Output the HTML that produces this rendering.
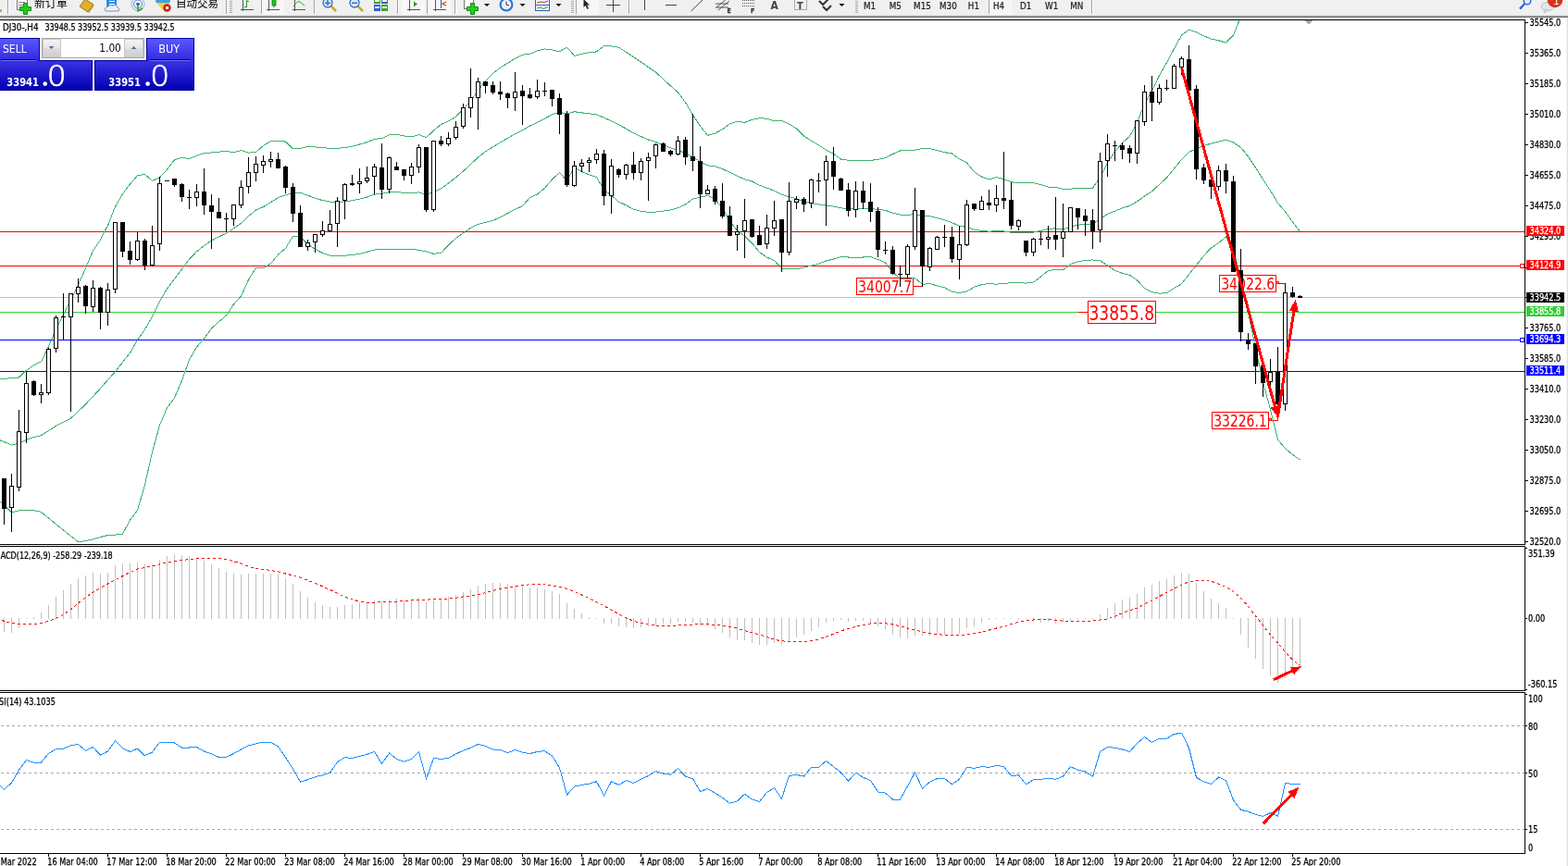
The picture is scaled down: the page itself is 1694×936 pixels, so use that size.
<!DOCTYPE html><html><head><meta charset="utf-8"><title>DJ30-,H4</title><style>
html,body{margin:0;padding:0;width:1694px;height:936px;overflow:hidden;background:#fff;}
#tb{position:absolute;left:0;top:0;width:1694px;height:16px;background:#f0f0f0;overflow:hidden;}
svg{position:absolute;left:0;top:0;}
text{font-family:"Liberation Sans","Noto Sans CJK SC",sans-serif;}
</style></head><body>
<svg width="1694" height="936" viewBox="0 0 1694 936" shape-rendering="crispEdges">
<defs><clipPath id="cm"><rect x="0" y="22" width="1647" height="566"/></clipPath><clipPath id="cd"><rect x="0" y="591" width="1647" height="155"/></clipPath><clipPath id="cr"><rect x="0" y="749" width="1647" height="173"/></clipPath></defs>
<rect x="0" y="0" width="1694" height="16" fill="#f0f0f0"/>
<rect x="0" y="16" width="1694" height="1" fill="#e2e2e2"/>
<rect x="0" y="17" width="1694" height="1" fill="#a0a0a0"/>
<rect x="0" y="18" width="1694" height="1" fill="#6c6c6c"/>
<rect x="1692" y="19" width="1" height="917" fill="#f3f3f3"/><rect x="1693" y="19" width="1" height="917" fill="#e0e0e0"/>
<rect x="0" y="250" width="1647" height="1" fill="#ff0000"/>
<rect x="0" y="287" width="1647" height="1" fill="#ff0000"/>
<rect x="0" y="321" width="1647" height="1" fill="#c0c0c0"/>
<rect x="0" y="337" width="1647" height="1" fill="#32cd32"/>
<rect x="0" y="367" width="1647" height="1" fill="#0000ff"/>
<rect x="0" y="401" width="1647" height="1" fill="#0000ff"/>
<rect x="1642.5" y="285.5" width="4" height="4" fill="#fff" stroke="#ff0000"/>
<rect x="1642.5" y="365.5" width="4" height="4" fill="#fff" stroke="#0000ff"/>
<rect x="925.5" y="300.5" width="61" height="18" fill="#fff" stroke="#ff0000"/>
<text x="927.0" y="316.3" font-size="17" fill="#ff0000" textLength="58.2" lengthAdjust="spacingAndGlyphs" shape-rendering="auto" style="font-family:'DejaVu Sans Condensed','DejaVu Sans',sans-serif">34007.7</text>
<rect x="987" y="309" width="9" height="1" fill="#ff0000"/>
<rect x="1175.5" y="325.5" width="73" height="24" fill="#fff" stroke="#ff0000"/>
<text x="1176.5" y="346.3" font-size="22" fill="#ff0000" textLength="70.6" lengthAdjust="spacingAndGlyphs" shape-rendering="auto" style="font-family:'DejaVu Sans Condensed','DejaVu Sans',sans-serif">33855.8</text>
<rect x="1165" y="337" width="10" height="1" fill="#ff0000"/>
<rect x="1317.5" y="297.5" width="61" height="18" fill="#fff" stroke="#ff0000"/>
<text x="1319.2" y="313.0" font-size="17" fill="#ff0000" textLength="58.0" lengthAdjust="spacingAndGlyphs" shape-rendering="auto" style="font-family:'DejaVu Sans Condensed','DejaVu Sans',sans-serif">34022.6</text>
<rect x="1379.5" y="304.5" width="2" height="2" fill="#fff" stroke="#ff0000"/>
<rect x="1382" y="306" width="6" height="1" fill="#ff0000"/>
<rect x="1309.5" y="445.5" width="61" height="18" fill="#fff" stroke="#ff0000"/>
<text x="1311.2" y="461.0" font-size="17" fill="#ff0000" textLength="57.5" lengthAdjust="spacingAndGlyphs" shape-rendering="auto" style="font-family:'DejaVu Sans Condensed','DejaVu Sans',sans-serif">33226.1</text>
<rect x="1371.5" y="452.5" width="2" height="2" fill="#fff" stroke="#ff0000"/>
<rect x="1374" y="454" width="7" height="1" fill="#ff0000"/>
<rect x="1380" y="451" width="1" height="3" fill="#ff0000"/>
<g fill="none" stroke="#3cb371" stroke-width="1" clip-path="url(#cm)">
<polyline points="-4.0,409.6 4.5,409.2 12.5,408.8 20.5,407.9 28.5,400.2 36.5,394.9 44.5,390.9 52.5,374.4 60.5,355.7 68.5,339.7 76.5,323.8 84.5,307.8 92.5,289.9 100.5,271.1 108.5,258.9 116.5,243.8 124.5,223.4 132.5,209.7 140.5,199.0 148.5,189.7 156.5,188.5 164.5,195.3 172.5,191.9 180.5,183.3 188.5,172.7 196.5,170.1 204.5,171.6 212.5,168.3 220.5,165.4 228.5,165.0 236.5,164.1 244.5,163.5 252.5,164.8 260.5,162.6 268.5,165.1 276.5,164.5 284.5,157.3 292.5,152.7 300.5,152.3 308.5,153.1 316.5,160.9 324.5,160.4 332.5,158.5 340.5,158.9 348.5,159.8 356.5,160.2 364.5,160.4 372.5,159.6 380.5,158.1 388.5,156.0 396.5,153.7 404.5,150.3 412.5,149.6 420.5,145.7 428.5,145.4 436.5,147.0 444.5,148.0 452.5,145.5 460.5,148.6 468.5,141.1 476.5,134.5 484.5,130.9 492.5,126.3 500.5,118.0 508.5,109.1 516.5,97.7 524.5,87.4 532.5,79.4 540.5,73.1 548.5,68.3 556.5,63.2 564.5,59.2 572.5,58.4 580.5,54.9 588.5,52.9 596.5,53.8 604.5,55.8 612.5,51.1 620.5,60.3 628.5,58.3 636.5,56.8 644.5,55.9 652.5,49.7 660.5,49.9 668.5,51.2 676.5,56.4 684.5,61.6 692.5,66.9 700.5,72.7 708.5,78.0 716.5,85.5 724.5,92.9 732.5,99.8 740.5,110.7 748.5,124.2 756.5,136.3 764.5,146.3 772.5,144.1 780.5,139.8 788.5,133.7 796.5,131.2 804.5,132.4 812.5,129.2 820.5,127.8 828.5,128.2 836.5,130.7 844.5,130.3 852.5,134.1 860.5,138.9 868.5,147.0 876.5,152.1 884.5,156.9 892.5,162.2 900.5,166.3 908.5,172.0 916.5,173.3 924.5,173.5 932.5,173.6 940.5,173.5 948.5,172.2 956.5,170.8 964.5,166.4 972.5,163.0 980.5,162.9 988.5,162.2 996.5,160.5 1004.5,160.7 1012.5,162.5 1020.5,164.7 1028.5,165.9 1036.5,171.9 1044.5,175.9 1052.5,185.9 1060.5,191.1 1068.5,193.9 1076.5,191.7 1084.5,193.7 1092.5,196.6 1100.5,197.7 1108.5,197.7 1116.5,197.6 1124.5,199.6 1132.5,202.2 1140.5,202.3 1148.5,204.4 1156.5,204.1 1164.5,203.6 1172.5,203.2 1180.5,203.2 1188.5,191.7 1196.5,175.8 1204.5,163.9 1212.5,154.5 1220.5,147.3 1228.5,132.7 1236.5,112.5 1244.5,97.8 1252.5,81.6 1260.5,67.6 1268.5,52.7 1276.5,37.9 1284.5,32.1 1292.5,34.9 1300.5,38.7 1308.5,42.1 1316.5,43.7 1324.5,46.3 1332.5,37.9 1340.5,18.4 1348.5,0.6 1356.5,-13.8 1364.5,-25.2 1372.5,-30.5 1380.5,-36.3 1388.5,-26.9 1396.5,-11.6 1404.5,3.9"/>
<polyline points="-4.0,474.2 4.5,477.6 12.5,481.1 20.5,479.1 28.5,475.2 36.5,472.6 44.5,470.6 52.5,465.5 60.5,460.4 68.5,456.4 76.5,452.1 84.5,444.7 92.5,437.0 100.5,428.4 108.5,419.7 116.5,410.7 124.5,401.7 132.5,391.5 140.5,381.3 148.5,367.3 156.5,356.3 164.5,342.0 172.5,325.7 180.5,312.1 188.5,301.4 196.5,290.7 204.5,280.2 212.5,271.7 220.5,265.6 228.5,260.0 236.5,255.9 244.5,252.2 252.5,246.8 260.5,241.3 268.5,233.7 276.5,227.0 284.5,223.6 292.5,218.7 300.5,213.7 308.5,210.8 316.5,208.0 324.5,208.1 332.5,211.3 340.5,214.2 348.5,216.6 356.5,218.1 364.5,218.3 372.5,217.9 380.5,216.8 388.5,215.2 396.5,213.0 404.5,210.2 412.5,209.3 420.5,207.8 428.5,207.6 436.5,208.3 444.5,208.6 452.5,207.9 460.5,210.2 468.5,207.7 476.5,203.9 484.5,198.0 492.5,191.8 500.5,184.9 508.5,177.7 516.5,170.0 524.5,163.8 532.5,158.8 540.5,153.9 548.5,149.4 556.5,144.8 564.5,140.9 572.5,136.0 580.5,132.4 588.5,128.1 596.5,123.9 604.5,121.1 612.5,123.1 620.5,120.7 628.5,121.9 636.5,122.8 644.5,123.7 652.5,127.4 660.5,130.6 668.5,134.7 676.5,139.2 684.5,143.9 692.5,147.6 700.5,151.0 708.5,153.6 716.5,156.8 724.5,159.9 732.5,162.2 740.5,165.8 748.5,169.6 756.5,174.8 764.5,178.8 772.5,179.7 780.5,182.5 788.5,186.4 796.5,190.2 804.5,193.8 812.5,196.0 820.5,200.2 828.5,203.2 836.5,206.1 844.5,210.4 852.5,212.6 860.5,214.8 868.5,218.0 876.5,219.6 884.5,221.0 892.5,222.1 900.5,223.1 908.5,224.8 916.5,225.7 924.5,225.7 932.5,225.8 940.5,225.6 948.5,226.3 956.5,227.3 964.5,230.2 972.5,232.2 980.5,232.4 988.5,231.4 996.5,233.9 1004.5,233.7 1012.5,235.6 1020.5,237.7 1028.5,240.7 1036.5,244.2 1044.5,245.5 1052.5,248.1 1060.5,249.4 1068.5,250.2 1076.5,249.5 1084.5,250.0 1092.5,251.2 1100.5,251.7 1108.5,251.9 1116.5,251.2 1124.5,249.3 1132.5,247.3 1140.5,246.9 1148.5,248.1 1156.5,244.9 1164.5,243.2 1172.5,242.3 1180.5,242.0 1188.5,236.8 1196.5,231.3 1204.5,228.1 1212.5,224.9 1220.5,222.4 1228.5,217.8 1236.5,212.1 1244.5,206.8 1252.5,199.4 1260.5,192.2 1268.5,182.1 1276.5,172.4 1284.5,164.4 1292.5,160.7 1300.5,157.5 1308.5,155.1 1316.5,153.1 1324.5,151.2 1332.5,153.9 1340.5,159.3 1348.5,169.2 1356.5,181.2 1364.5,194.0 1372.5,206.0 1380.5,219.5 1388.5,228.8 1396.5,239.9 1404.5,250.4"/>
<polyline points="-4.0,538.1 4.5,546.1 12.5,553.8 20.5,551.9 28.5,551.2 36.5,551.7 44.5,553.4 52.5,560.0 60.5,566.6 68.5,573.0 76.5,579.4 84.5,585.8 92.5,584.7 100.5,582.8 108.5,580.5 116.5,578.5 124.5,578.1 132.5,577.1 140.5,562.1 148.5,551.5 156.5,524.0 164.5,488.8 172.5,459.5 180.5,440.9 188.5,430.1 196.5,411.4 204.5,388.7 212.5,375.1 220.5,365.9 228.5,355.0 236.5,347.7 244.5,341.0 252.5,328.9 260.5,320.0 268.5,302.4 276.5,289.5 284.5,289.9 292.5,284.7 300.5,275.1 308.5,268.5 316.5,255.2 324.5,255.8 332.5,264.0 340.5,269.4 348.5,273.5 356.5,276.1 364.5,276.2 372.5,276.2 380.5,275.6 388.5,274.4 396.5,272.3 404.5,270.1 412.5,269.1 420.5,269.8 428.5,269.9 436.5,269.5 444.5,269.2 452.5,270.4 460.5,271.9 468.5,274.3 476.5,273.3 484.5,265.1 492.5,257.3 500.5,251.9 508.5,246.4 516.5,242.3 524.5,240.3 532.5,238.3 540.5,234.8 548.5,230.5 556.5,226.3 564.5,222.6 572.5,213.5 580.5,210.0 588.5,203.3 596.5,194.1 604.5,186.4 612.5,195.2 620.5,181.1 628.5,185.6 636.5,188.8 644.5,191.5 652.5,205.2 660.5,211.2 668.5,218.2 676.5,221.9 684.5,226.2 692.5,228.3 700.5,229.4 708.5,229.1 716.5,228.1 724.5,227.0 732.5,224.7 740.5,221.0 748.5,215.1 756.5,213.2 764.5,211.4 772.5,215.4 780.5,225.2 788.5,239.1 796.5,249.3 804.5,255.2 812.5,262.8 820.5,272.7 828.5,278.1 836.5,281.6 844.5,290.6 852.5,291.0 860.5,290.8 868.5,289.1 876.5,287.1 884.5,285.1 892.5,282.0 900.5,280.0 908.5,277.5 916.5,278.0 924.5,278.0 932.5,278.0 940.5,277.6 948.5,280.5 956.5,283.9 964.5,294.1 972.5,301.5 980.5,301.8 988.5,300.5 996.5,307.3 1004.5,306.7 1012.5,308.8 1020.5,310.8 1028.5,315.4 1036.5,316.4 1044.5,315.0 1052.5,310.2 1060.5,307.7 1068.5,306.5 1076.5,307.2 1084.5,306.3 1092.5,305.8 1100.5,305.7 1108.5,306.1 1116.5,304.9 1124.5,299.1 1132.5,292.4 1140.5,291.6 1148.5,291.8 1156.5,285.7 1164.5,282.8 1172.5,281.5 1180.5,280.9 1188.5,281.8 1196.5,286.8 1204.5,292.4 1212.5,295.4 1220.5,297.4 1228.5,302.9 1236.5,311.7 1244.5,315.7 1252.5,317.1 1260.5,316.8 1268.5,311.5 1276.5,306.8 1284.5,296.6 1292.5,286.6 1300.5,276.3 1308.5,268.1 1316.5,262.5 1324.5,256.0 1332.5,269.9 1340.5,300.3 1348.5,337.7 1356.5,376.2 1364.5,413.2 1372.5,442.5 1380.5,475.4 1388.5,484.6 1396.5,491.4 1404.5,496.9"/>
</g>
<g>
<rect x="4" y="517" width="1" height="50" fill="#000"/>
<rect x="2" y="517" width="5" height="33" fill="#000"/>
<rect x="12" y="512" width="1" height="63" fill="#000"/>
<rect x="10.5" y="525.5" width="4" height="23" fill="#fff" stroke="#000"/>
<rect x="20" y="443" width="1" height="88" fill="#000"/>
<rect x="18.5" y="466.5" width="4" height="60" fill="#fff" stroke="#000"/>
<rect x="28" y="402" width="1" height="77" fill="#000"/>
<rect x="26.5" y="414.5" width="4" height="53" fill="#fff" stroke="#000"/>
<rect x="36" y="411" width="1" height="17" fill="#000"/>
<rect x="34" y="412" width="5" height="15" fill="#000"/>
<rect x="44" y="415" width="1" height="21" fill="#000"/>
<rect x="42.5" y="424.5" width="4" height="2" fill="#fff" stroke="#000"/>
<rect x="52" y="376" width="1" height="51" fill="#000"/>
<rect x="50.5" y="377.5" width="4" height="47" fill="#fff" stroke="#000"/>
<rect x="60" y="341" width="1" height="40" fill="#000"/>
<rect x="58.5" y="343.5" width="4" height="33" fill="#fff" stroke="#000"/>
<rect x="68" y="317" width="1" height="50" fill="#000"/>
<rect x="66" y="342" width="5" height="1" fill="#000"/>
<rect x="76" y="317" width="1" height="128" fill="#000"/>
<rect x="74.5" y="317.5" width="4" height="25" fill="#fff" stroke="#000"/>
<rect x="84" y="301" width="1" height="26" fill="#000"/>
<rect x="82.5" y="310.5" width="4" height="7" fill="#fff" stroke="#000"/>
<rect x="92" y="308" width="1" height="31" fill="#000"/>
<rect x="90" y="309" width="5" height="22" fill="#000"/>
<rect x="100" y="303" width="1" height="34" fill="#000"/>
<rect x="98.5" y="311.5" width="4" height="20" fill="#fff" stroke="#000"/>
<rect x="108" y="310" width="1" height="46" fill="#000"/>
<rect x="106" y="311" width="5" height="27" fill="#000"/>
<rect x="116" y="306" width="1" height="46" fill="#000"/>
<rect x="114.5" y="313.5" width="4" height="24" fill="#fff" stroke="#000"/>
<rect x="124" y="240" width="1" height="77" fill="#000"/>
<rect x="122.5" y="240.5" width="4" height="72" fill="#fff" stroke="#000"/>
<rect x="132" y="240" width="1" height="38" fill="#000"/>
<rect x="130" y="240" width="5" height="32" fill="#000"/>
<rect x="140" y="261" width="1" height="25" fill="#000"/>
<rect x="138" y="271" width="5" height="10" fill="#000"/>
<rect x="148" y="251" width="1" height="31" fill="#000"/>
<rect x="146.5" y="260.5" width="4" height="20" fill="#fff" stroke="#000"/>
<rect x="156" y="258" width="1" height="34" fill="#000"/>
<rect x="154" y="260" width="5" height="27" fill="#000"/>
<rect x="164" y="244" width="1" height="44" fill="#000"/>
<rect x="162.5" y="265.5" width="4" height="21" fill="#fff" stroke="#000"/>
<rect x="172" y="191" width="1" height="80" fill="#000"/>
<rect x="170.5" y="198.5" width="4" height="65" fill="#fff" stroke="#000"/>
<rect x="180" y="195" width="1" height="1" fill="#000"/>
<rect x="178" y="195" width="5" height="1" fill="#000"/>
<rect x="188" y="193" width="1" height="9" fill="#000"/>
<rect x="186" y="193" width="5" height="7" fill="#000"/>
<rect x="196" y="198" width="1" height="20" fill="#000"/>
<rect x="194" y="199" width="5" height="14" fill="#000"/>
<rect x="204" y="205" width="1" height="21" fill="#000"/>
<rect x="202" y="213" width="5" height="1" fill="#000"/>
<rect x="212" y="199" width="1" height="24" fill="#000"/>
<rect x="210.5" y="207.5" width="4" height="6" fill="#fff" stroke="#000"/>
<rect x="220" y="182" width="1" height="50" fill="#000"/>
<rect x="218" y="207" width="5" height="15" fill="#000"/>
<rect x="228" y="210" width="1" height="59" fill="#000"/>
<rect x="226" y="222" width="5" height="7" fill="#000"/>
<rect x="236" y="214" width="1" height="22" fill="#000"/>
<rect x="234" y="229" width="5" height="7" fill="#000"/>
<rect x="244" y="230" width="1" height="21" fill="#000"/>
<rect x="242" y="236" width="5" height="1" fill="#000"/>
<rect x="252" y="221" width="1" height="23" fill="#000"/>
<rect x="250.5" y="221.5" width="4" height="15" fill="#fff" stroke="#000"/>
<rect x="260" y="195" width="1" height="30" fill="#000"/>
<rect x="258.5" y="202.5" width="4" height="19" fill="#fff" stroke="#000"/>
<rect x="268" y="170" width="1" height="39" fill="#000"/>
<rect x="266.5" y="186.5" width="4" height="15" fill="#fff" stroke="#000"/>
<rect x="276" y="169" width="1" height="27" fill="#000"/>
<rect x="274.5" y="177.5" width="4" height="9" fill="#fff" stroke="#000"/>
<rect x="284" y="168" width="1" height="19" fill="#000"/>
<rect x="282.5" y="174.5" width="4" height="4" fill="#fff" stroke="#000"/>
<rect x="292" y="164" width="1" height="17" fill="#000"/>
<rect x="290.5" y="172.5" width="4" height="2" fill="#fff" stroke="#000"/>
<rect x="300" y="165" width="1" height="17" fill="#000"/>
<rect x="298" y="172" width="5" height="10" fill="#000"/>
<rect x="308" y="179" width="1" height="30" fill="#000"/>
<rect x="306" y="180" width="5" height="23" fill="#000"/>
<rect x="316" y="198" width="1" height="42" fill="#000"/>
<rect x="314" y="202" width="5" height="29" fill="#000"/>
<rect x="324" y="222" width="1" height="45" fill="#000"/>
<rect x="322" y="230" width="5" height="37" fill="#000"/>
<rect x="332" y="259" width="1" height="12" fill="#000"/>
<rect x="330.5" y="262.5" width="4" height="4" fill="#fff" stroke="#000"/>
<rect x="340" y="253" width="1" height="20" fill="#000"/>
<rect x="338.5" y="253.5" width="4" height="8" fill="#fff" stroke="#000"/>
<rect x="348" y="239" width="1" height="17" fill="#000"/>
<rect x="346.5" y="249.5" width="4" height="4" fill="#fff" stroke="#000"/>
<rect x="356" y="227" width="1" height="24" fill="#000"/>
<rect x="354.5" y="242.5" width="4" height="7" fill="#fff" stroke="#000"/>
<rect x="364" y="213" width="1" height="54" fill="#000"/>
<rect x="362.5" y="217.5" width="4" height="24" fill="#fff" stroke="#000"/>
<rect x="372" y="198" width="1" height="39" fill="#000"/>
<rect x="370.5" y="199.5" width="4" height="17" fill="#fff" stroke="#000"/>
<rect x="380" y="189" width="1" height="12" fill="#000"/>
<rect x="378" y="198" width="5" height="2" fill="#000"/>
<rect x="388" y="182" width="1" height="27" fill="#000"/>
<rect x="386.5" y="196.5" width="4" height="2" fill="#fff" stroke="#000"/>
<rect x="396" y="180" width="1" height="18" fill="#000"/>
<rect x="394.5" y="192.5" width="4" height="3" fill="#fff" stroke="#000"/>
<rect x="404" y="177" width="1" height="33" fill="#000"/>
<rect x="402.5" y="180.5" width="4" height="10" fill="#fff" stroke="#000"/>
<rect x="412" y="155" width="1" height="60" fill="#000"/>
<rect x="410" y="181" width="5" height="24" fill="#000"/>
<rect x="420" y="169" width="1" height="40" fill="#000"/>
<rect x="418.5" y="170.5" width="4" height="34" fill="#fff" stroke="#000"/>
<rect x="428" y="175" width="1" height="9" fill="#000"/>
<rect x="426" y="180" width="5" height="4" fill="#000"/>
<rect x="436" y="183" width="1" height="12" fill="#000"/>
<rect x="434" y="183" width="5" height="7" fill="#000"/>
<rect x="444" y="176" width="1" height="23" fill="#000"/>
<rect x="442.5" y="180.5" width="4" height="9" fill="#fff" stroke="#000"/>
<rect x="452" y="156" width="1" height="31" fill="#000"/>
<rect x="450.5" y="159.5" width="4" height="21" fill="#fff" stroke="#000"/>
<rect x="460" y="159" width="1" height="70" fill="#000"/>
<rect x="458" y="159" width="5" height="68" fill="#000"/>
<rect x="468" y="152" width="1" height="77" fill="#000"/>
<rect x="466.5" y="152.5" width="4" height="74" fill="#fff" stroke="#000"/>
<rect x="476" y="147" width="1" height="11" fill="#000"/>
<rect x="474" y="152" width="5" height="4" fill="#000"/>
<rect x="484" y="143" width="1" height="15" fill="#000"/>
<rect x="482.5" y="149.5" width="4" height="6" fill="#fff" stroke="#000"/>
<rect x="492" y="131" width="1" height="20" fill="#000"/>
<rect x="490.5" y="137.5" width="4" height="11" fill="#fff" stroke="#000"/>
<rect x="500" y="112" width="1" height="27" fill="#000"/>
<rect x="498.5" y="116.5" width="4" height="20" fill="#fff" stroke="#000"/>
<rect x="508" y="74" width="1" height="53" fill="#000"/>
<rect x="506.5" y="105.5" width="4" height="11" fill="#fff" stroke="#000"/>
<rect x="516" y="84" width="1" height="56" fill="#000"/>
<rect x="514.5" y="88.5" width="4" height="17" fill="#fff" stroke="#000"/>
<rect x="524" y="88" width="1" height="13" fill="#000"/>
<rect x="522" y="88" width="5" height="5" fill="#000"/>
<rect x="532" y="88" width="1" height="14" fill="#000"/>
<rect x="530" y="92" width="5" height="8" fill="#000"/>
<rect x="540" y="88" width="1" height="20" fill="#000"/>
<rect x="538" y="99" width="5" height="3" fill="#000"/>
<rect x="548" y="100" width="1" height="17" fill="#000"/>
<rect x="546" y="101" width="5" height="5" fill="#000"/>
<rect x="556" y="78" width="1" height="42" fill="#000"/>
<rect x="554.5" y="99.5" width="4" height="6" fill="#fff" stroke="#000"/>
<rect x="564" y="92" width="1" height="43" fill="#000"/>
<rect x="562" y="98" width="5" height="6" fill="#000"/>
<rect x="572" y="95" width="1" height="12" fill="#000"/>
<rect x="570" y="102" width="5" height="4" fill="#000"/>
<rect x="580" y="86" width="1" height="21" fill="#000"/>
<rect x="578.5" y="98.5" width="4" height="6" fill="#fff" stroke="#000"/>
<rect x="588" y="89" width="1" height="15" fill="#000"/>
<rect x="586" y="98" width="5" height="1" fill="#000"/>
<rect x="596" y="97" width="1" height="18" fill="#000"/>
<rect x="594" y="97" width="5" height="10" fill="#000"/>
<rect x="604" y="101" width="1" height="44" fill="#000"/>
<rect x="602" y="106" width="5" height="18" fill="#000"/>
<rect x="612" y="120" width="1" height="82" fill="#000"/>
<rect x="610" y="123" width="5" height="77" fill="#000"/>
<rect x="620" y="174" width="1" height="28" fill="#000"/>
<rect x="618.5" y="179.5" width="4" height="21" fill="#fff" stroke="#000"/>
<rect x="628" y="172" width="1" height="14" fill="#000"/>
<rect x="626.5" y="176.5" width="4" height="3" fill="#fff" stroke="#000"/>
<rect x="636" y="170" width="1" height="16" fill="#000"/>
<rect x="634.5" y="173.5" width="4" height="2" fill="#fff" stroke="#000"/>
<rect x="644" y="161" width="1" height="16" fill="#000"/>
<rect x="642.5" y="166.5" width="4" height="6" fill="#fff" stroke="#000"/>
<rect x="652" y="162" width="1" height="60" fill="#000"/>
<rect x="650" y="166" width="5" height="46" fill="#000"/>
<rect x="660" y="172" width="1" height="59" fill="#000"/>
<rect x="658.5" y="179.5" width="4" height="32" fill="#fff" stroke="#000"/>
<rect x="668" y="182" width="1" height="10" fill="#000"/>
<rect x="666" y="183" width="5" height="6" fill="#000"/>
<rect x="676" y="177" width="1" height="17" fill="#000"/>
<rect x="674.5" y="178.5" width="4" height="10" fill="#fff" stroke="#000"/>
<rect x="684" y="164" width="1" height="30" fill="#000"/>
<rect x="682" y="178" width="5" height="9" fill="#000"/>
<rect x="692" y="171" width="1" height="24" fill="#000"/>
<rect x="690.5" y="174.5" width="4" height="12" fill="#fff" stroke="#000"/>
<rect x="700" y="165" width="1" height="52" fill="#000"/>
<rect x="698.5" y="170.5" width="4" height="3" fill="#fff" stroke="#000"/>
<rect x="708" y="155" width="1" height="27" fill="#000"/>
<rect x="706.5" y="156.5" width="4" height="12" fill="#fff" stroke="#000"/>
<rect x="716" y="154" width="1" height="10" fill="#000"/>
<rect x="714" y="155" width="5" height="9" fill="#000"/>
<rect x="724" y="162" width="1" height="7" fill="#000"/>
<rect x="722" y="163" width="5" height="4" fill="#000"/>
<rect x="732" y="147" width="1" height="21" fill="#000"/>
<rect x="730.5" y="152.5" width="4" height="14" fill="#fff" stroke="#000"/>
<rect x="740" y="148" width="1" height="30" fill="#000"/>
<rect x="738" y="151" width="5" height="19" fill="#000"/>
<rect x="748" y="123" width="1" height="62" fill="#000"/>
<rect x="746" y="169" width="5" height="5" fill="#000"/>
<rect x="756" y="158" width="1" height="67" fill="#000"/>
<rect x="754" y="174" width="5" height="36" fill="#000"/>
<rect x="764" y="200" width="1" height="10" fill="#000"/>
<rect x="762.5" y="205.5" width="4" height="4" fill="#fff" stroke="#000"/>
<rect x="772" y="201" width="1" height="20" fill="#000"/>
<rect x="770" y="204" width="5" height="14" fill="#000"/>
<rect x="780" y="198" width="1" height="38" fill="#000"/>
<rect x="778" y="217" width="5" height="17" fill="#000"/>
<rect x="788" y="223" width="1" height="32" fill="#000"/>
<rect x="786" y="233" width="5" height="22" fill="#000"/>
<rect x="796" y="243" width="1" height="28" fill="#000"/>
<rect x="794.5" y="250.5" width="4" height="3" fill="#fff" stroke="#000"/>
<rect x="804" y="215" width="1" height="64" fill="#000"/>
<rect x="802.5" y="238.5" width="4" height="11" fill="#fff" stroke="#000"/>
<rect x="812" y="237" width="1" height="20" fill="#000"/>
<rect x="810" y="237" width="5" height="19" fill="#000"/>
<rect x="820" y="244" width="1" height="21" fill="#000"/>
<rect x="818" y="254" width="5" height="11" fill="#000"/>
<rect x="828" y="232" width="1" height="37" fill="#000"/>
<rect x="826.5" y="246.5" width="4" height="17" fill="#fff" stroke="#000"/>
<rect x="836" y="217" width="1" height="38" fill="#000"/>
<rect x="834.5" y="238.5" width="4" height="8" fill="#fff" stroke="#000"/>
<rect x="844" y="237" width="1" height="57" fill="#000"/>
<rect x="842" y="237" width="5" height="36" fill="#000"/>
<rect x="852" y="197" width="1" height="79" fill="#000"/>
<rect x="850.5" y="217.5" width="4" height="55" fill="#fff" stroke="#000"/>
<rect x="860" y="212" width="1" height="14" fill="#000"/>
<rect x="858.5" y="215.5" width="4" height="3" fill="#fff" stroke="#000"/>
<rect x="868" y="213" width="1" height="16" fill="#000"/>
<rect x="866" y="215" width="5" height="6" fill="#000"/>
<rect x="876" y="193" width="1" height="32" fill="#000"/>
<rect x="874.5" y="194.5" width="4" height="25" fill="#fff" stroke="#000"/>
<rect x="884" y="187" width="1" height="21" fill="#000"/>
<rect x="882" y="195" width="5" height="1" fill="#000"/>
<rect x="892" y="168" width="1" height="76" fill="#000"/>
<rect x="890.5" y="174.5" width="4" height="20" fill="#fff" stroke="#000"/>
<rect x="900" y="159" width="1" height="46" fill="#000"/>
<rect x="898" y="174" width="5" height="17" fill="#000"/>
<rect x="908" y="192" width="1" height="14" fill="#000"/>
<rect x="906" y="193" width="5" height="13" fill="#000"/>
<rect x="916" y="198" width="1" height="36" fill="#000"/>
<rect x="914" y="205" width="5" height="23" fill="#000"/>
<rect x="924" y="196" width="1" height="39" fill="#000"/>
<rect x="922.5" y="206.5" width="4" height="20" fill="#fff" stroke="#000"/>
<rect x="932" y="196" width="1" height="30" fill="#000"/>
<rect x="930" y="206" width="5" height="13" fill="#000"/>
<rect x="940" y="198" width="1" height="42" fill="#000"/>
<rect x="938" y="218" width="5" height="11" fill="#000"/>
<rect x="948" y="224" width="1" height="54" fill="#000"/>
<rect x="946" y="228" width="5" height="42" fill="#000"/>
<rect x="956" y="261" width="1" height="14" fill="#000"/>
<rect x="954" y="270" width="5" height="1" fill="#000"/>
<rect x="964" y="266" width="1" height="31" fill="#000"/>
<rect x="962" y="270" width="5" height="26" fill="#000"/>
<rect x="972" y="287" width="1" height="23" fill="#000"/>
<rect x="970" y="296" width="5" height="1" fill="#000"/>
<rect x="980" y="264" width="1" height="37" fill="#000"/>
<rect x="978.5" y="266.5" width="4" height="30" fill="#fff" stroke="#000"/>
<rect x="988" y="203" width="1" height="67" fill="#000"/>
<rect x="986.5" y="227.5" width="4" height="39" fill="#fff" stroke="#000"/>
<rect x="996" y="227" width="1" height="83" fill="#000"/>
<rect x="994" y="227" width="5" height="61" fill="#000"/>
<rect x="1004" y="267" width="1" height="26" fill="#000"/>
<rect x="1002.5" y="268.5" width="4" height="20" fill="#fff" stroke="#000"/>
<rect x="1012" y="255" width="1" height="15" fill="#000"/>
<rect x="1010.5" y="256.5" width="4" height="13" fill="#fff" stroke="#000"/>
<rect x="1020" y="243" width="1" height="24" fill="#000"/>
<rect x="1018" y="256" width="5" height="1" fill="#000"/>
<rect x="1028" y="245" width="1" height="39" fill="#000"/>
<rect x="1026" y="256" width="5" height="24" fill="#000"/>
<rect x="1036" y="244" width="1" height="58" fill="#000"/>
<rect x="1034.5" y="264.5" width="4" height="16" fill="#fff" stroke="#000"/>
<rect x="1044" y="216" width="1" height="50" fill="#000"/>
<rect x="1042.5" y="221.5" width="4" height="43" fill="#fff" stroke="#000"/>
<rect x="1052" y="220" width="1" height="8" fill="#000"/>
<rect x="1050" y="220" width="5" height="6" fill="#000"/>
<rect x="1060" y="212" width="1" height="15" fill="#000"/>
<rect x="1058.5" y="217.5" width="4" height="9" fill="#fff" stroke="#000"/>
<rect x="1068" y="205" width="1" height="22" fill="#000"/>
<rect x="1066" y="219" width="5" height="3" fill="#000"/>
<rect x="1076" y="200" width="1" height="29" fill="#000"/>
<rect x="1074.5" y="214.5" width="4" height="7" fill="#fff" stroke="#000"/>
<rect x="1084" y="164" width="1" height="62" fill="#000"/>
<rect x="1082" y="214" width="5" height="3" fill="#000"/>
<rect x="1092" y="197" width="1" height="51" fill="#000"/>
<rect x="1090" y="216" width="5" height="28" fill="#000"/>
<rect x="1100" y="237" width="1" height="12" fill="#000"/>
<rect x="1098.5" y="238.5" width="4" height="6" fill="#fff" stroke="#000"/>
<rect x="1108" y="260" width="1" height="17" fill="#000"/>
<rect x="1106" y="260" width="5" height="13" fill="#000"/>
<rect x="1116" y="257" width="1" height="20" fill="#000"/>
<rect x="1114.5" y="258.5" width="4" height="14" fill="#fff" stroke="#000"/>
<rect x="1124" y="251" width="1" height="14" fill="#000"/>
<rect x="1122" y="258" width="5" height="1" fill="#000"/>
<rect x="1132" y="244" width="1" height="25" fill="#000"/>
<rect x="1130.5" y="256.5" width="4" height="2" fill="#fff" stroke="#000"/>
<rect x="1140" y="213" width="1" height="57" fill="#000"/>
<rect x="1138" y="254" width="5" height="5" fill="#000"/>
<rect x="1148" y="220" width="1" height="58" fill="#000"/>
<rect x="1146.5" y="250.5" width="4" height="7" fill="#fff" stroke="#000"/>
<rect x="1156" y="224" width="1" height="27" fill="#000"/>
<rect x="1154.5" y="224.5" width="4" height="26" fill="#fff" stroke="#000"/>
<rect x="1164" y="225" width="1" height="23" fill="#000"/>
<rect x="1162" y="225" width="5" height="10" fill="#000"/>
<rect x="1172" y="226" width="1" height="29" fill="#000"/>
<rect x="1170" y="233" width="5" height="6" fill="#000"/>
<rect x="1180" y="226" width="1" height="43" fill="#000"/>
<rect x="1178" y="238" width="5" height="12" fill="#000"/>
<rect x="1188" y="165" width="1" height="97" fill="#000"/>
<rect x="1186.5" y="174.5" width="4" height="74" fill="#fff" stroke="#000"/>
<rect x="1196" y="145" width="1" height="46" fill="#000"/>
<rect x="1194.5" y="155.5" width="4" height="18" fill="#fff" stroke="#000"/>
<rect x="1204" y="152" width="1" height="22" fill="#000"/>
<rect x="1202" y="157" width="5" height="1" fill="#000"/>
<rect x="1212" y="154" width="1" height="18" fill="#000"/>
<rect x="1210" y="157" width="5" height="5" fill="#000"/>
<rect x="1220" y="157" width="1" height="19" fill="#000"/>
<rect x="1218" y="160" width="5" height="6" fill="#000"/>
<rect x="1228" y="130" width="1" height="47" fill="#000"/>
<rect x="1226.5" y="130.5" width="4" height="35" fill="#fff" stroke="#000"/>
<rect x="1236" y="92" width="1" height="44" fill="#000"/>
<rect x="1234.5" y="99.5" width="4" height="32" fill="#fff" stroke="#000"/>
<rect x="1244" y="82" width="1" height="49" fill="#000"/>
<rect x="1242" y="99" width="5" height="12" fill="#000"/>
<rect x="1252" y="91" width="1" height="22" fill="#000"/>
<rect x="1250.5" y="95.5" width="4" height="15" fill="#fff" stroke="#000"/>
<rect x="1260" y="86" width="1" height="12" fill="#000"/>
<rect x="1258" y="95" width="5" height="1" fill="#000"/>
<rect x="1268" y="69" width="1" height="27" fill="#000"/>
<rect x="1266.5" y="71.5" width="4" height="24" fill="#fff" stroke="#000"/>
<rect x="1276" y="61" width="1" height="20" fill="#000"/>
<rect x="1274.5" y="63.5" width="4" height="9" fill="#fff" stroke="#000"/>
<rect x="1284" y="49" width="1" height="49" fill="#000"/>
<rect x="1282" y="64" width="5" height="34" fill="#000"/>
<rect x="1292" y="92" width="1" height="102" fill="#000"/>
<rect x="1290" y="96" width="5" height="87" fill="#000"/>
<rect x="1300" y="177" width="1" height="22" fill="#000"/>
<rect x="1298" y="181" width="5" height="14" fill="#000"/>
<rect x="1308" y="194" width="1" height="21" fill="#000"/>
<rect x="1306" y="194" width="5" height="8" fill="#000"/>
<rect x="1316" y="179" width="1" height="27" fill="#000"/>
<rect x="1314.5" y="184.5" width="4" height="17" fill="#fff" stroke="#000"/>
<rect x="1324" y="177" width="1" height="32" fill="#000"/>
<rect x="1322" y="184" width="5" height="12" fill="#000"/>
<rect x="1332" y="190" width="1" height="104" fill="#000"/>
<rect x="1330" y="196" width="5" height="98" fill="#000"/>
<rect x="1340" y="269" width="1" height="100" fill="#000"/>
<rect x="1338" y="292" width="5" height="67" fill="#000"/>
<rect x="1348" y="360" width="1" height="18" fill="#000"/>
<rect x="1346" y="367" width="5" height="5" fill="#000"/>
<rect x="1356" y="371" width="1" height="44" fill="#000"/>
<rect x="1354" y="371" width="5" height="25" fill="#000"/>
<rect x="1364" y="387" width="1" height="42" fill="#000"/>
<rect x="1362" y="395" width="5" height="19" fill="#000"/>
<rect x="1372" y="388" width="1" height="31" fill="#000"/>
<rect x="1370.5" y="402.5" width="4" height="10" fill="#fff" stroke="#000"/>
<rect x="1380" y="375" width="1" height="76" fill="#000"/>
<rect x="1378" y="402" width="5" height="35" fill="#000"/>
<rect x="1388" y="306" width="1" height="138" fill="#000"/>
<rect x="1386.5" y="316.5" width="4" height="120" fill="#fff" stroke="#000"/>
<rect x="1396" y="310" width="1" height="12" fill="#000"/>
<rect x="1394" y="316" width="5" height="5" fill="#000"/>
<rect x="1404" y="319" width="1" height="3" fill="#000"/>
<rect x="1402" y="320" width="5" height="2" fill="#000"/>
</g>
<rect x="0" y="21" width="1648" height="1" fill="#000"/>
<rect x="0" y="588" width="1648" height="1" fill="#000"/>
<rect x="0" y="590" width="1648" height="1" fill="#000"/>
<rect x="0" y="746" width="1648" height="1" fill="#000"/>
<rect x="0" y="748" width="1648" height="1" fill="#000"/>
<rect x="0" y="922" width="1648" height="1" fill="#000"/>
<rect x="1647" y="21" width="1" height="568" fill="#000"/><rect x="1647" y="590" width="1" height="157" fill="#000"/><rect x="1647" y="748" width="1" height="175" fill="#000"/>
<g clip-path="url(#cd)"><g fill="#c0c0c0">
<rect x="4" y="668" width="1" height="15"/>
<rect x="12" y="668" width="1" height="16"/>
<rect x="20" y="668" width="1" height="11"/>
<rect x="28" y="668" width="1" height="1"/>
<rect x="36" y="667" width="1" height="2"/>
<rect x="44" y="662" width="1" height="7"/>
<rect x="52" y="654" width="1" height="15"/>
<rect x="60" y="645" width="1" height="24"/>
<rect x="68" y="638" width="1" height="31"/>
<rect x="76" y="631" width="1" height="38"/>
<rect x="84" y="625" width="1" height="44"/>
<rect x="92" y="622" width="1" height="47"/>
<rect x="100" y="619" width="1" height="50"/>
<rect x="108" y="620" width="1" height="49"/>
<rect x="116" y="619" width="1" height="50"/>
<rect x="124" y="611" width="1" height="58"/>
<rect x="132" y="609" width="1" height="60"/>
<rect x="140" y="609" width="1" height="60"/>
<rect x="148" y="608" width="1" height="61"/>
<rect x="156" y="610" width="1" height="59"/>
<rect x="164" y="610" width="1" height="59"/>
<rect x="172" y="605" width="1" height="64"/>
<rect x="180" y="601" width="1" height="68"/>
<rect x="188" y="599" width="1" height="70"/>
<rect x="196" y="600" width="1" height="69"/>
<rect x="204" y="601" width="1" height="68"/>
<rect x="212" y="603" width="1" height="66"/>
<rect x="220" y="606" width="1" height="63"/>
<rect x="228" y="610" width="1" height="59"/>
<rect x="236" y="614" width="1" height="55"/>
<rect x="244" y="618" width="1" height="51"/>
<rect x="252" y="620" width="1" height="49"/>
<rect x="260" y="621" width="1" height="48"/>
<rect x="268" y="620" width="1" height="49"/>
<rect x="276" y="620" width="1" height="49"/>
<rect x="284" y="620" width="1" height="49"/>
<rect x="292" y="620" width="1" height="49"/>
<rect x="300" y="620" width="1" height="49"/>
<rect x="308" y="625" width="1" height="44"/>
<rect x="316" y="631" width="1" height="38"/>
<rect x="324" y="639" width="1" height="30"/>
<rect x="332" y="646" width="1" height="23"/>
<rect x="340" y="651" width="1" height="18"/>
<rect x="348" y="654" width="1" height="15"/>
<rect x="356" y="656" width="1" height="13"/>
<rect x="364" y="656" width="1" height="13"/>
<rect x="372" y="654" width="1" height="15"/>
<rect x="380" y="653" width="1" height="16"/>
<rect x="388" y="651" width="1" height="18"/>
<rect x="396" y="651" width="1" height="18"/>
<rect x="404" y="649" width="1" height="20"/>
<rect x="412" y="650" width="1" height="19"/>
<rect x="420" y="648" width="1" height="21"/>
<rect x="428" y="647" width="1" height="22"/>
<rect x="436" y="648" width="1" height="21"/>
<rect x="444" y="648" width="1" height="21"/>
<rect x="452" y="646" width="1" height="23"/>
<rect x="460" y="651" width="1" height="18"/>
<rect x="468" y="649" width="1" height="20"/>
<rect x="476" y="648" width="1" height="21"/>
<rect x="484" y="645" width="1" height="24"/>
<rect x="492" y="643" width="1" height="26"/>
<rect x="500" y="640" width="1" height="29"/>
<rect x="508" y="637" width="1" height="32"/>
<rect x="516" y="633" width="1" height="36"/>
<rect x="524" y="631" width="1" height="38"/>
<rect x="532" y="630" width="1" height="39"/>
<rect x="540" y="630" width="1" height="39"/>
<rect x="548" y="631" width="1" height="38"/>
<rect x="556" y="633" width="1" height="36"/>
<rect x="564" y="632" width="1" height="37"/>
<rect x="572" y="635" width="1" height="34"/>
<rect x="580" y="635" width="1" height="34"/>
<rect x="588" y="637" width="1" height="32"/>
<rect x="596" y="639" width="1" height="30"/>
<rect x="604" y="642" width="1" height="27"/>
<rect x="612" y="652" width="1" height="17"/>
<rect x="620" y="658" width="1" height="11"/>
<rect x="628" y="663" width="1" height="6"/>
<rect x="636" y="667" width="1" height="2"/>
<rect x="644" y="668" width="1" height="1"/>
<rect x="652" y="668" width="1" height="6"/>
<rect x="660" y="668" width="1" height="6"/>
<rect x="668" y="668" width="1" height="9"/>
<rect x="676" y="668" width="1" height="10"/>
<rect x="684" y="668" width="1" height="11"/>
<rect x="692" y="668" width="1" height="10"/>
<rect x="700" y="668" width="1" height="9"/>
<rect x="708" y="668" width="1" height="8"/>
<rect x="716" y="668" width="1" height="6"/>
<rect x="724" y="668" width="1" height="6"/>
<rect x="732" y="668" width="1" height="4"/>
<rect x="740" y="668" width="1" height="4"/>
<rect x="748" y="668" width="1" height="5"/>
<rect x="756" y="668" width="1" height="8"/>
<rect x="764" y="668" width="1" height="9"/>
<rect x="772" y="668" width="1" height="12"/>
<rect x="780" y="668" width="1" height="16"/>
<rect x="788" y="668" width="1" height="21"/>
<rect x="796" y="668" width="1" height="24"/>
<rect x="804" y="668" width="1" height="24"/>
<rect x="812" y="668" width="1" height="27"/>
<rect x="820" y="668" width="1" height="29"/>
<rect x="828" y="668" width="1" height="29"/>
<rect x="836" y="668" width="1" height="27"/>
<rect x="844" y="668" width="1" height="29"/>
<rect x="852" y="668" width="1" height="25"/>
<rect x="860" y="668" width="1" height="21"/>
<rect x="868" y="668" width="1" height="18"/>
<rect x="876" y="668" width="1" height="14"/>
<rect x="884" y="668" width="1" height="10"/>
<rect x="892" y="668" width="1" height="5"/>
<rect x="900" y="668" width="1" height="3"/>
<rect x="908" y="668" width="1" height="2"/>
<rect x="916" y="668" width="1" height="4"/>
<rect x="924" y="668" width="1" height="3"/>
<rect x="932" y="668" width="1" height="3"/>
<rect x="940" y="668" width="1" height="5"/>
<rect x="948" y="668" width="1" height="9"/>
<rect x="956" y="668" width="1" height="12"/>
<rect x="964" y="668" width="1" height="18"/>
<rect x="972" y="668" width="1" height="21"/>
<rect x="980" y="668" width="1" height="22"/>
<rect x="988" y="668" width="1" height="19"/>
<rect x="996" y="668" width="1" height="19"/>
<rect x="1004" y="668" width="1" height="19"/>
<rect x="1012" y="668" width="1" height="18"/>
<rect x="1020" y="668" width="1" height="18"/>
<rect x="1028" y="668" width="1" height="18"/>
<rect x="1036" y="668" width="1" height="17"/>
<rect x="1044" y="668" width="1" height="11"/>
<rect x="1052" y="668" width="1" height="9"/>
<rect x="1060" y="668" width="1" height="5"/>
<rect x="1068" y="668" width="1" height="2"/>
<rect x="1076" y="668" width="1" height="1"/>
<rect x="1084" y="668" width="1" height="1"/>
<rect x="1092" y="668" width="1" height="1"/>
<rect x="1100" y="668" width="1" height="2"/>
<rect x="1108" y="668" width="1" height="1"/>
<rect x="1116" y="668" width="1" height="4"/>
<rect x="1124" y="668" width="1" height="5"/>
<rect x="1132" y="668" width="1" height="4"/>
<rect x="1140" y="668" width="1" height="6"/>
<rect x="1148" y="668" width="1" height="4"/>
<rect x="1156" y="668" width="1" height="3"/>
<rect x="1164" y="668" width="1" height="1"/>
<rect x="1172" y="668" width="1" height="1"/>
<rect x="1180" y="668" width="1" height="1"/>
<rect x="1188" y="664" width="1" height="5"/>
<rect x="1196" y="657" width="1" height="12"/>
<rect x="1204" y="652" width="1" height="17"/>
<rect x="1212" y="648" width="1" height="21"/>
<rect x="1220" y="646" width="1" height="23"/>
<rect x="1228" y="642" width="1" height="27"/>
<rect x="1236" y="635" width="1" height="34"/>
<rect x="1244" y="632" width="1" height="37"/>
<rect x="1252" y="628" width="1" height="41"/>
<rect x="1260" y="626" width="1" height="43"/>
<rect x="1268" y="622" width="1" height="47"/>
<rect x="1276" y="619" width="1" height="50"/>
<rect x="1284" y="620" width="1" height="49"/>
<rect x="1292" y="630" width="1" height="39"/>
<rect x="1300" y="639" width="1" height="30"/>
<rect x="1308" y="647" width="1" height="22"/>
<rect x="1316" y="652" width="1" height="17"/>
<rect x="1324" y="657" width="1" height="12"/>
<rect x="1332" y="668" width="1" height="1"/>
<rect x="1340" y="668" width="1" height="18"/>
<rect x="1348" y="668" width="1" height="32"/>
<rect x="1356" y="668" width="1" height="44"/>
<rect x="1364" y="668" width="1" height="55"/>
<rect x="1372" y="668" width="1" height="62"/>
<rect x="1380" y="668" width="1" height="70"/>
<rect x="1388" y="668" width="1" height="65"/>
<rect x="1396" y="668" width="1" height="56"/>
<rect x="1404" y="668" width="1" height="52"/>
</g>
<polyline fill="none" stroke="#ff0000" stroke-width="1" stroke-dasharray="3 3" points="-4.0,668.9 4.5,671.3 12.5,673.7 20.5,674.4 28.5,674.9 36.5,675.0 44.5,673.5 52.5,671.4 60.5,668.4 68.5,664.0 76.5,658.8 84.5,651.9 92.5,645.9 100.5,640.3 108.5,635.5 116.5,631.0 124.5,626.7 132.5,622.5 140.5,618.6 148.5,615.1 156.5,613.6 164.5,612.0 172.5,609.8 180.5,607.9 188.5,606.4 196.5,605.6 204.5,604.6 212.5,603.6 220.5,603.6 228.5,603.6 236.5,603.7 244.5,604.8 252.5,606.7 260.5,609.2 268.5,612.2 276.5,614.4 284.5,615.4 292.5,616.5 300.5,617.9 308.5,620.0 316.5,622.0 324.5,624.2 332.5,627.3 340.5,630.5 348.5,633.8 356.5,637.5 364.5,641.2 372.5,645.0 380.5,647.9 388.5,650.1 396.5,651.4 404.5,651.2 412.5,650.8 420.5,650.5 428.5,650.1 436.5,649.5 444.5,648.9 452.5,648.4 460.5,648.1 468.5,647.8 476.5,647.4 484.5,647.1 492.5,646.2 500.5,644.9 508.5,643.8 516.5,642.4 524.5,640.8 532.5,638.4 540.5,636.5 548.5,635.2 556.5,633.6 564.5,632.4 572.5,631.8 580.5,631.7 588.5,632.0 596.5,633.1 604.5,634.5 612.5,636.4 620.5,639.5 628.5,643.0 636.5,646.7 644.5,650.7 652.5,654.9 660.5,659.2 668.5,663.7 676.5,667.8 684.5,671.3 692.5,673.5 700.5,675.1 708.5,676.1 716.5,676.3 724.5,676.2 732.5,675.9 740.5,675.6 748.5,675.2 756.5,674.6 764.5,674.7 772.5,675.5 780.5,676.3 788.5,677.5 796.5,679.2 804.5,681.5 812.5,683.8 820.5,685.9 828.5,688.4 836.5,691.3 844.5,692.7 852.5,693.7 860.5,694.0 868.5,693.5 876.5,692.6 884.5,691.0 892.5,688.3 900.5,685.2 908.5,682.0 916.5,679.4 924.5,677.3 932.5,675.4 940.5,674.0 948.5,673.2 956.5,673.8 964.5,675.0 972.5,676.9 980.5,679.0 988.5,681.0 996.5,682.9 1004.5,684.4 1012.5,685.6 1020.5,686.4 1028.5,686.7 1036.5,686.7 1044.5,685.9 1052.5,684.7 1060.5,683.1 1068.5,681.0 1076.5,679.0 1084.5,677.1 1092.5,674.5 1100.5,672.2 1108.5,670.9 1116.5,670.0 1124.5,669.4 1132.5,669.7 1140.5,670.4 1148.5,671.1 1156.5,671.1 1164.5,671.4 1172.5,671.8 1180.5,671.0 1188.5,670.1 1196.5,669.0 1204.5,666.1 1212.5,662.8 1220.5,659.7 1228.5,657.1 1236.5,652.8 1244.5,649.1 1252.5,644.6 1260.5,640.3 1268.5,636.0 1276.5,632.3 1284.5,628.7 1292.5,627.5 1300.5,627.3 1308.5,628.3 1316.5,631.2 1324.5,634.6 1332.5,639.5 1340.5,646.4 1348.5,655.2 1356.5,665.9 1364.5,675.9 1372.5,686.1 1380.5,694.9 1388.5,704.5 1396.5,713.2 1404.5,719.3"/></g>
<line x1="1" y1="784.5" x2="1647" y2="784.5" stroke="#a9a9a9" stroke-width="1" stroke-dasharray="3 3"/>
<line x1="1" y1="835.5" x2="1647" y2="835.5" stroke="#a9a9a9" stroke-width="1" stroke-dasharray="3 3"/>
<line x1="1" y1="896.5" x2="1647" y2="896.5" stroke="#a9a9a9" stroke-width="1" stroke-dasharray="3 3"/>
<polyline fill="none" stroke="#1e90ff" stroke-width="1" clip-path="url(#cr)" points="-4.0,845.0 4.5,853.4 12.5,846.0 20.5,832.3 28.5,821.6 36.5,824.1 44.5,824.1 52.5,814.5 60.5,809.5 68.5,809.2 76.5,805.8 84.5,804.5 92.5,811.2 100.5,807.5 108.5,816.2 116.5,812.0 124.5,800.6 132.5,808.7 140.5,812.5 148.5,809.2 156.5,816.9 164.5,813.0 172.5,802.1 180.5,802.1 188.5,803.0 196.5,808.0 204.5,808.0 212.5,807.5 220.5,812.0 228.5,814.9 236.5,818.4 244.5,818.4 252.5,814.5 260.5,810.0 268.5,805.8 276.5,803.8 284.5,802.1 292.5,802.1 300.5,807.0 308.5,818.7 316.5,831.1 324.5,845.2 332.5,842.7 340.5,839.7 348.5,837.8 356.5,835.3 364.5,823.6 372.5,818.7 380.5,819.4 388.5,817.4 396.5,815.4 404.5,812.5 412.5,825.4 420.5,814.0 428.5,820.4 436.5,823.1 444.5,820.4 452.5,812.5 460.5,841.7 468.5,819.4 476.5,820.4 484.5,819.4 492.5,814.9 500.5,811.2 508.5,808.3 516.5,804.5 524.5,806.3 532.5,810.0 540.5,810.5 548.5,813.7 556.5,810.5 564.5,813.2 572.5,814.5 580.5,812.5 588.5,811.7 596.5,816.9 604.5,829.8 612.5,859.1 620.5,850.2 628.5,848.4 636.5,847.2 644.5,844.7 652.5,859.6 660.5,844.7 668.5,848.4 676.5,843.5 684.5,846.4 692.5,842.2 700.5,838.5 708.5,833.5 716.5,836.0 724.5,837.3 732.5,830.6 740.5,839.2 748.5,841.7 756.5,855.4 764.5,852.6 772.5,857.1 780.5,862.1 788.5,868.3 796.5,865.8 804.5,858.3 812.5,863.9 820.5,866.5 828.5,856.4 836.5,851.6 844.5,863.3 852.5,838.5 860.5,837.3 868.5,839.2 876.5,829.3 884.5,829.3 892.5,822.4 900.5,828.6 908.5,834.8 916.5,844.2 924.5,835.3 932.5,840.2 940.5,843.5 948.5,855.9 956.5,857.1 964.5,864.0 972.5,864.0 980.5,849.7 988.5,834.8 996.5,852.1 1004.5,845.2 1012.5,841.5 1020.5,841.5 1028.5,847.9 1036.5,842.2 1044.5,829.3 1052.5,830.3 1060.5,828.6 1068.5,829.3 1076.5,827.3 1084.5,828.6 1092.5,838.5 1100.5,837.8 1108.5,847.9 1116.5,842.7 1124.5,842.2 1132.5,841.5 1140.5,842.2 1148.5,839.2 1156.5,828.6 1164.5,832.3 1172.5,834.0 1180.5,839.2 1188.5,812.5 1196.5,807.5 1204.5,808.3 1212.5,810.0 1220.5,812.5 1228.5,803.4 1236.5,796.7 1244.5,802.3 1252.5,798.2 1260.5,798.2 1268.5,793.5 1276.5,792.2 1284.5,808.4 1292.5,840.4 1300.5,844.7 1308.5,847.4 1316.5,840.0 1324.5,843.7 1332.5,864.7 1340.5,875.3 1348.5,877.2 1356.5,880.3 1364.5,882.4 1372.5,878.5 1380.5,882.4 1388.5,846.5 1396.5,847.5 1404.5,847.5"/>
<polygon points="1409.5,22 1418.5,22 1414,26.5" fill="#a0a0a0" shape-rendering="auto"/>
<line x1="1276.5" y1="73.3" x2="1377.3" y2="439.2" stroke="#ff0000" stroke-width="3"/>
<polygon points="1380.5,450.8 1372.5,440.6 1382.1,437.9" fill="#ff0000"/>
<line x1="1380.5" y1="450.8" x2="1397.8" y2="336.5" stroke="#ff0000" stroke-width="3"/>
<polygon points="1399.8,323.6 1402.8,337.2 1392.9,335.7" fill="#ff0000"/>
<line x1="1375.9" y1="734.6" x2="1396.0" y2="725.1" stroke="#ff0000" stroke-width="3"/>
<polygon points="1405.9,720.4 1397.9,729.3 1394.0,720.9" fill="#ff0000"/>
<line x1="1364.6" y1="890.4" x2="1395.0" y2="859.3" stroke="#ff0000" stroke-width="3"/>
<polygon points="1403.4,850.7 1398.6,862.8 1391.4,855.8" fill="#ff0000"/>
<g shape-rendering="auto">
<rect x="8" y="0" width="1" height="15" fill="#a0a0a0"/><rect x="9" y="0" width="1" height="15" fill="#fff"/>
<rect x="244" y="0" width="1" height="15" fill="#a0a0a0"/><rect x="245" y="0" width="1" height="15" fill="#fff"/>
<rect x="282" y="0" width="1" height="15" fill="#a0a0a0"/><rect x="283" y="0" width="1" height="15" fill="#fff"/>
<rect x="339" y="0" width="1" height="15" fill="#a0a0a0"/><rect x="340" y="0" width="1" height="15" fill="#fff"/>
<rect x="429" y="0" width="1" height="15" fill="#a0a0a0"/><rect x="430" y="0" width="1" height="15" fill="#fff"/>
<rect x="461" y="0" width="1" height="15" fill="#a0a0a0"/><rect x="462" y="0" width="1" height="15" fill="#fff"/>
<rect x="491" y="0" width="1" height="15" fill="#a0a0a0"/><rect x="492" y="0" width="1" height="15" fill="#fff"/>
<rect x="622" y="0" width="1" height="15" fill="#a0a0a0"/><rect x="623" y="0" width="1" height="15" fill="#fff"/>
<rect x="679" y="0" width="1" height="15" fill="#a0a0a0"/><rect x="680" y="0" width="1" height="15" fill="#fff"/>
<rect x="1179" y="0" width="1" height="15" fill="#a0a0a0"/><rect x="1180" y="0" width="1" height="15" fill="#fff"/>
<rect x="248" y="1" width="3" height="1" fill="#a8a8a8"/>
<rect x="248" y="3" width="3" height="1" fill="#a8a8a8"/>
<rect x="248" y="5" width="3" height="1" fill="#a8a8a8"/>
<rect x="248" y="7" width="3" height="1" fill="#a8a8a8"/>
<rect x="248" y="9" width="3" height="1" fill="#a8a8a8"/>
<rect x="248" y="11" width="3" height="1" fill="#a8a8a8"/>
<rect x="248" y="13" width="3" height="1" fill="#a8a8a8"/>
<rect x="617" y="1" width="3" height="1" fill="#a8a8a8"/>
<rect x="617" y="3" width="3" height="1" fill="#a8a8a8"/>
<rect x="617" y="5" width="3" height="1" fill="#a8a8a8"/>
<rect x="617" y="7" width="3" height="1" fill="#a8a8a8"/>
<rect x="617" y="9" width="3" height="1" fill="#a8a8a8"/>
<rect x="617" y="11" width="3" height="1" fill="#a8a8a8"/>
<rect x="617" y="13" width="3" height="1" fill="#a8a8a8"/>
<rect x="924" y="1" width="3" height="1" fill="#a8a8a8"/>
<rect x="924" y="3" width="3" height="1" fill="#a8a8a8"/>
<rect x="924" y="5" width="3" height="1" fill="#a8a8a8"/>
<rect x="924" y="7" width="3" height="1" fill="#a8a8a8"/>
<rect x="924" y="9" width="3" height="1" fill="#a8a8a8"/>
<rect x="924" y="11" width="3" height="1" fill="#a8a8a8"/>
<rect x="924" y="13" width="3" height="1" fill="#a8a8a8"/>
<rect x="283" y="0" width="24" height="16" fill="#f7f7f7"/>
<rect x="434" y="0" width="25" height="16" fill="#f7f7f7"/>
<rect x="463" y="0" width="24" height="16" fill="#f7f7f7"/>
<rect x="624" y="0" width="23" height="16" fill="#f7f7f7"/>
<rect x="1069" y="0" width="24" height="16" fill="#f7f7f7"/>
<rect x="1068" y="0" width="1" height="15" fill="#a0a0a0"/>
<rect x="0" y="10" width="2" height="3" fill="#d8a040"/>
<rect x="18.5" y="-3.5" width="11" height="14" fill="#fff" stroke="#777"/>
<rect x="20" y="2" width="7" height="1" fill="#888"/><rect x="20" y="5" width="6" height="1" fill="#888"/>
<path d="M25.5 3.5h4v4h4v4h-4v4h-4v-4h-4v-4h4z" fill="#22cc22" stroke="#109010" stroke-width="1"/>
<text x="37" y="7.6" font-size="12.5" fill="#000" textLength="36" lengthAdjust="spacingAndGlyphs" style="font-family:'Liberation Sans','Noto Sans CJK SC',sans-serif">新订單</text>
<path d="M86 7 L92 -1 L101 5 L95 13 Z" fill="#e0b030" stroke="#a07010"/>
<path d="M95 13 L101 5 L101 7 L96 14Z" fill="#c89020"/>
<rect x="115" y="-2" width="11" height="9" fill="#2a8ae8"/>
<rect x="118" y="1" width="6" height="1" fill="#fff"/><rect x="118" y="4" width="6" height="1" fill="#fff"/>
<path d="M114 12 Q112 8 116 8 Q118 4 122 6 Q126 4 127 8 Q130 9 128 12 Z" fill="#e8eef8" stroke="#8090b0"/>
<circle cx="149" cy="4.5" r="7" fill="none" stroke="#8fb0e0" stroke-width="1"/>
<circle cx="149" cy="4.5" r="4.5" fill="none" stroke="#5080d0" stroke-width="1"/>
<circle cx="149" cy="4.5" r="1.8" fill="#2060c0"/>
<path d="M149 5 L149 12 L154 9" fill="none" stroke="#30a030" stroke-width="1.5"/>
<ellipse cx="176" cy="1" rx="8" ry="4" fill="#40a0e0"/>
<path d="M169 3 L183 3 L178 13 Z" fill="#f0d040"/>
<circle cx="180.5" cy="8.5" r="4.2" fill="#d02010"/><rect x="179" y="7" width="3" height="3" fill="#fff"/>
<text x="190" y="7.6" font-size="12.5" fill="#000" textLength="46" lengthAdjust="spacingAndGlyphs" style="font-family:'Liberation Sans','Noto Sans CJK SC',sans-serif">自动交易</text>
<rect x="262" y="0" width="1" height="12" fill="#555"/><rect x="260" y="10" width="14" height="1" fill="#555"/>
<rect x="266" y="0" width="1" height="8" fill="#20a020"/><rect x="266" y="1" width="3" height="1" fill="#20a020"/><rect x="264" y="7" width="3" height="1" fill="#20a020"/>
<rect x="290" y="0" width="1" height="12" fill="#555"/><rect x="288" y="10" width="14" height="1" fill="#555"/>
<rect x="294" y="-2" width="4" height="8" fill="#20c020" stroke="#108010" stroke-width="0.8"/><rect x="295.5" y="6" width="1" height="2" fill="#108010"/>
<rect x="318" y="0" width="1" height="12" fill="#555"/><rect x="316" y="10" width="14" height="1" fill="#555"/>
<path d="M317 7 Q322 0 324 2 Q326 4 329 6" fill="none" stroke="#20a020" stroke-width="1"/>
<line x1="357" y1="6" x2="363" y2="12" stroke="#c8a820" stroke-width="2.5"/>
<circle cx="354" cy="3" r="5" fill="#dbe8f8" stroke="#3070c8" stroke-width="1.3"/>
<rect x="351" y="2.5" width="6" height="1.5" fill="#3070c8"/>
<rect x="353.25" y="0" width="1.5" height="6" fill="#3070c8"/>
<line x1="386" y1="6" x2="392" y2="12" stroke="#c8a820" stroke-width="2.5"/>
<circle cx="383" cy="3" r="5" fill="#dbe8f8" stroke="#3070c8" stroke-width="1.3"/>
<rect x="380" y="2.5" width="6" height="1.5" fill="#3070c8"/>
<rect x="404" y="-2" width="7" height="6" fill="#40a030"/><rect x="412" y="-2" width="7" height="6" fill="#3060d0"/>
<rect x="404" y="5" width="7" height="7" fill="#3060d0"/><rect x="412" y="5" width="7" height="7" fill="#40a030"/>
<rect x="405" y="7" width="5" height="2" fill="#fff"/><rect x="413" y="7" width="5" height="2" fill="#fff"/><rect x="405" y="0" width="5" height="2" fill="#fff"/><rect x="413" y="0" width="5" height="2" fill="#fff"/>
<rect x="442" y="0" width="1" height="12" fill="#555"/><rect x="440" y="10" width="14" height="1" fill="#555"/>
<path d="M447 1.5 L451 4.5 L447 7.5 Z" fill="#20a020"/>
<rect x="470" y="0" width="1" height="12" fill="#555"/><rect x="468" y="10" width="14" height="1" fill="#555"/>
<rect x="476" y="0" width="1" height="9" fill="#2060c0"/><path d="M482 2 L478 4 L482 6" fill="none" stroke="#e04010" stroke-width="1.2"/>
<rect x="501.5" y="-3.5" width="10" height="13" fill="#fff" stroke="#777"/>
<path d="M508.5 3.5h4v4h4v4h-4v4h-4v-4h-4v-4h4z" fill="#22cc22" stroke="#109010"/>
<path d="M523 4 L529 4 L526 7 Z" fill="#000"/>
<path d="M561.5 4 L567.5 4 L564.5 7 Z" fill="#000"/>
<path d="M600.5 4 L606.5 4 L603.5 7 Z" fill="#000"/>
<circle cx="547" cy="5" r="7.5" fill="#2878d8"/><circle cx="547" cy="5" r="5.3" fill="#eef3fa"/>
<path d="M547 1.5 L547 5 L550 6" fill="none" stroke="#333" stroke-width="1"/>
<rect x="578.5" y="-1.5" width="15" height="13" fill="#f4f8ff" stroke="#3060c0"/>
<rect x="579" y="5" width="14" height="1" fill="#3060c0"/>
<path d="M580 3 L584 2 L588 2.5 L592 1" fill="none" stroke="#c03020"/><path d="M580 9 L584 8 L587 9.5 L592 7.5" fill="none" stroke="#20a020"/>
<path d="M630.5 -1 L630.5 8 L632.5 6 L634.5 10 L636 9.3 L634.2 5.5 L637 5.5 Z" fill="#222"/>
<rect x="655" y="5" width="15" height="1" fill="#444"/><rect x="662" y="-2" width="1" height="15" fill="#444"/>
<rect x="696" y="-1" width="1" height="12" fill="#444"/>
<rect x="719" y="5" width="12" height="1" fill="#444"/>
<line x1="746.5" y1="12" x2="759" y2="0" stroke="#444" stroke-width="1"/>
<path d="M774 8 L786 -2 M776 11 L788 1 M773 4 L787 4 M773 8 L787 8" fill="none" stroke="#555" stroke-width="1"/>
<text transform="translate(785.5,14) scale(1,1)" font-size="7" fill="#333" font-weight="bold" text-anchor="start" style="font-family:'DejaVu Sans Condensed','DejaVu Sans','Liberation Sans',sans-serif;white-space:pre"  stroke="#333" stroke-width="0.25">E</text>
<path d="M802 0.5 H816 M802 3.5 H816 M802 6.5 H816" fill="none" stroke="#555" stroke-dasharray="1 1"/>
<text transform="translate(811,14) scale(1,1)" font-size="7" fill="#333" font-weight="bold" text-anchor="start" style="font-family:'DejaVu Sans Condensed','DejaVu Sans','Liberation Sans',sans-serif;white-space:pre"  stroke="#333" stroke-width="0.25">F</text>
<text transform="translate(832.5,10) scale(1,1)" font-size="12" fill="#444" font-weight="bold" text-anchor="start" style="font-family:'DejaVu Sans Condensed','DejaVu Sans','Liberation Sans',sans-serif;white-space:pre"  stroke="#444" stroke-width="0">A</text>
<rect x="858.5" y="-0.5" width="13" height="11" fill="none" stroke="#666" stroke-dasharray="1 1"/>
<text transform="translate(861,9.5) scale(1,1)" font-size="11" fill="#444" font-weight="bold" text-anchor="start" style="font-family:'DejaVu Sans Condensed','DejaVu Sans','Liberation Sans',sans-serif;white-space:pre"  stroke="#444" stroke-width="0">T</text>
<path d="M885 1 L889 5 L896 -2 M889 7 L893 11 L898 6" fill="none" stroke="#333" stroke-width="2"/>
<path d="M906.5 4 L912.5 4 L909.5 7 Z" fill="#000"/>
<text transform="translate(932.9,9.6) scale(0.93,1)" font-size="10.5" fill="#222" font-weight="normal" text-anchor="start" style="font-family:'DejaVu Sans Condensed','DejaVu Sans','Liberation Sans',sans-serif;white-space:pre"  stroke="#222" stroke-width="0.25">M1</text>
<text transform="translate(960.8,9.6) scale(0.93,1)" font-size="10.5" fill="#222" font-weight="normal" text-anchor="start" style="font-family:'DejaVu Sans Condensed','DejaVu Sans','Liberation Sans',sans-serif;white-space:pre"  stroke="#222" stroke-width="0.25">M5</text>
<text transform="translate(987.1,9.6) scale(0.93,1)" font-size="10.5" fill="#222" font-weight="normal" text-anchor="start" style="font-family:'DejaVu Sans Condensed','DejaVu Sans','Liberation Sans',sans-serif;white-space:pre"  stroke="#222" stroke-width="0.25">M15</text>
<text transform="translate(1015.0,9.6) scale(0.93,1)" font-size="10.5" fill="#222" font-weight="normal" text-anchor="start" style="font-family:'DejaVu Sans Condensed','DejaVu Sans','Liberation Sans',sans-serif;white-space:pre"  stroke="#222" stroke-width="0.25">M30</text>
<text transform="translate(1045.8,9.6) scale(0.93,1)" font-size="10.5" fill="#222" font-weight="normal" text-anchor="start" style="font-family:'DejaVu Sans Condensed','DejaVu Sans','Liberation Sans',sans-serif;white-space:pre"  stroke="#222" stroke-width="0.25">H1</text>
<text transform="translate(1073.0,9.6) scale(0.93,1)" font-size="10.5" fill="#222" font-weight="normal" text-anchor="start" style="font-family:'DejaVu Sans Condensed','DejaVu Sans','Liberation Sans',sans-serif;white-space:pre"  stroke="#222" stroke-width="0.25">H4</text>
<text transform="translate(1102.1,9.6) scale(0.93,1)" font-size="10.5" fill="#222" font-weight="normal" text-anchor="start" style="font-family:'DejaVu Sans Condensed','DejaVu Sans','Liberation Sans',sans-serif;white-space:pre"  stroke="#222" stroke-width="0.25">D1</text>
<text transform="translate(1129.1,9.6) scale(0.93,1)" font-size="10.5" fill="#222" font-weight="normal" text-anchor="start" style="font-family:'DejaVu Sans Condensed','DejaVu Sans','Liberation Sans',sans-serif;white-space:pre"  stroke="#222" stroke-width="0.25">W1</text>
<text transform="translate(1156.2,9.6) scale(0.93,1)" font-size="10.5" fill="#222" font-weight="normal" text-anchor="start" style="font-family:'DejaVu Sans Condensed','DejaVu Sans','Liberation Sans',sans-serif;white-space:pre"  stroke="#222" stroke-width="0.25">MN</text>
<circle cx="1650" cy="1" r="3.7" fill="#e8eef8" stroke="#2a6ad8" stroke-width="1.5"/>
<line x1="1647.2" y1="4" x2="1642" y2="9.6" stroke="#2a6ad8" stroke-width="2.4"/>
<ellipse cx="1672" cy="7" rx="7" ry="4.5" fill="#e4e6ee" stroke="#b8bcc8"/>
<path d="M1669 10 L1668 14 L1673 11 Z" fill="#d8dae4" stroke="#b8bcc8" stroke-width="0.8"/>
<circle cx="1680" cy="0" r="8.3" fill="#d8341c"/>
<text transform="translate(1678,5) scale(1,1)" font-size="12" fill="#fff" font-weight="normal" text-anchor="start" style="font-family:'DejaVu Sans Condensed','DejaVu Sans','Liberation Sans',sans-serif;white-space:pre"  stroke="#fff" stroke-width="0">1</text>
</g>
<g shape-rendering="auto">
<text transform="translate(3,33) scale(1,1)" font-size="9.6" fill="#000" font-weight="normal" text-anchor="start" style="font-family:'DejaVu Sans Condensed','DejaVu Sans','Liberation Sans',sans-serif;white-space:pre" textLength="38.5" lengthAdjust="spacingAndGlyphs" stroke="#000" stroke-width="0.25">DJ30-,H4</text>
<text transform="translate(48.4,33) scale(1,1)" font-size="9.6" fill="#000" font-weight="normal" text-anchor="start" style="font-family:'DejaVu Sans Condensed','DejaVu Sans','Liberation Sans',sans-serif;white-space:pre" textLength="140.3" lengthAdjust="spacingAndGlyphs" stroke="#000" stroke-width="0.25">33948.5 33952.5 33939.5 33942.5</text>
<text transform="translate(1652.5,27.9) scale(0.948,1)" font-size="9.6" fill="#000" font-weight="normal" text-anchor="start" style="font-family:'DejaVu Sans Condensed','DejaVu Sans','Liberation Sans',sans-serif;white-space:pre"  stroke="#000" stroke-width="0.25">35545.0</text>
<text transform="translate(1652.5,60.9) scale(0.948,1)" font-size="9.6" fill="#000" font-weight="normal" text-anchor="start" style="font-family:'DejaVu Sans Condensed','DejaVu Sans','Liberation Sans',sans-serif;white-space:pre"  stroke="#000" stroke-width="0.25">35365.0</text>
<text transform="translate(1652.5,93.9) scale(0.948,1)" font-size="9.6" fill="#000" font-weight="normal" text-anchor="start" style="font-family:'DejaVu Sans Condensed','DejaVu Sans','Liberation Sans',sans-serif;white-space:pre"  stroke="#000" stroke-width="0.25">35185.0</text>
<text transform="translate(1652.5,126.9) scale(0.948,1)" font-size="9.6" fill="#000" font-weight="normal" text-anchor="start" style="font-family:'DejaVu Sans Condensed','DejaVu Sans','Liberation Sans',sans-serif;white-space:pre"  stroke="#000" stroke-width="0.25">35010.0</text>
<text transform="translate(1652.5,159.9) scale(0.948,1)" font-size="9.6" fill="#000" font-weight="normal" text-anchor="start" style="font-family:'DejaVu Sans Condensed','DejaVu Sans','Liberation Sans',sans-serif;white-space:pre"  stroke="#000" stroke-width="0.25">34830.0</text>
<text transform="translate(1652.5,192.9) scale(0.948,1)" font-size="9.6" fill="#000" font-weight="normal" text-anchor="start" style="font-family:'DejaVu Sans Condensed','DejaVu Sans','Liberation Sans',sans-serif;white-space:pre"  stroke="#000" stroke-width="0.25">34655.0</text>
<text transform="translate(1652.5,225.9) scale(0.948,1)" font-size="9.6" fill="#000" font-weight="normal" text-anchor="start" style="font-family:'DejaVu Sans Condensed','DejaVu Sans','Liberation Sans',sans-serif;white-space:pre"  stroke="#000" stroke-width="0.25">34475.0</text>
<text transform="translate(1652.5,258.9) scale(0.948,1)" font-size="9.6" fill="#000" font-weight="normal" text-anchor="start" style="font-family:'DejaVu Sans Condensed','DejaVu Sans','Liberation Sans',sans-serif;white-space:pre"  stroke="#000" stroke-width="0.25">34295.0</text>
<text transform="translate(1652.5,357.9) scale(0.948,1)" font-size="9.6" fill="#000" font-weight="normal" text-anchor="start" style="font-family:'DejaVu Sans Condensed','DejaVu Sans','Liberation Sans',sans-serif;white-space:pre"  stroke="#000" stroke-width="0.25">33765.0</text>
<text transform="translate(1652.5,390.9) scale(0.948,1)" font-size="9.6" fill="#000" font-weight="normal" text-anchor="start" style="font-family:'DejaVu Sans Condensed','DejaVu Sans','Liberation Sans',sans-serif;white-space:pre"  stroke="#000" stroke-width="0.25">33585.0</text>
<text transform="translate(1652.5,423.9) scale(0.948,1)" font-size="9.6" fill="#000" font-weight="normal" text-anchor="start" style="font-family:'DejaVu Sans Condensed','DejaVu Sans','Liberation Sans',sans-serif;white-space:pre"  stroke="#000" stroke-width="0.25">33410.0</text>
<text transform="translate(1652.5,456.9) scale(0.948,1)" font-size="9.6" fill="#000" font-weight="normal" text-anchor="start" style="font-family:'DejaVu Sans Condensed','DejaVu Sans','Liberation Sans',sans-serif;white-space:pre"  stroke="#000" stroke-width="0.25">33230.0</text>
<text transform="translate(1652.5,489.9) scale(0.948,1)" font-size="9.6" fill="#000" font-weight="normal" text-anchor="start" style="font-family:'DejaVu Sans Condensed','DejaVu Sans','Liberation Sans',sans-serif;white-space:pre"  stroke="#000" stroke-width="0.25">33050.0</text>
<text transform="translate(1652.5,522.9) scale(0.948,1)" font-size="9.6" fill="#000" font-weight="normal" text-anchor="start" style="font-family:'DejaVu Sans Condensed','DejaVu Sans','Liberation Sans',sans-serif;white-space:pre"  stroke="#000" stroke-width="0.25">32875.0</text>
<text transform="translate(1652.5,555.9) scale(0.948,1)" font-size="9.6" fill="#000" font-weight="normal" text-anchor="start" style="font-family:'DejaVu Sans Condensed','DejaVu Sans','Liberation Sans',sans-serif;white-space:pre"  stroke="#000" stroke-width="0.25">32695.0</text>
<text transform="translate(1652.5,588.9) scale(0.948,1)" font-size="9.6" fill="#000" font-weight="normal" text-anchor="start" style="font-family:'DejaVu Sans Condensed','DejaVu Sans','Liberation Sans',sans-serif;white-space:pre"  stroke="#000" stroke-width="0.25">32520.0</text>
<text transform="translate(1651,601.5) scale(0.948,1)" font-size="9.6" fill="#000" font-weight="normal" text-anchor="start" style="font-family:'DejaVu Sans Condensed','DejaVu Sans','Liberation Sans',sans-serif;white-space:pre"  stroke="#000" stroke-width="0.25">351.39</text>
<text transform="translate(1651,672.3) scale(0.948,1)" font-size="9.6" fill="#000" font-weight="normal" text-anchor="start" style="font-family:'DejaVu Sans Condensed','DejaVu Sans','Liberation Sans',sans-serif;white-space:pre"  stroke="#000" stroke-width="0.25">0.00</text>
<text transform="translate(1650.8,743) scale(0.948,1)" font-size="9.6" fill="#000" font-weight="normal" text-anchor="start" style="font-family:'DejaVu Sans Condensed','DejaVu Sans','Liberation Sans',sans-serif;white-space:pre"  stroke="#000" stroke-width="0.25">-360.15</text>
<text transform="translate(1651,759) scale(0.948,1)" font-size="9.6" fill="#000" font-weight="normal" text-anchor="start" style="font-family:'DejaVu Sans Condensed','DejaVu Sans','Liberation Sans',sans-serif;white-space:pre"  stroke="#000" stroke-width="0.25">100</text>
<text transform="translate(1651,788.5) scale(0.948,1)" font-size="9.6" fill="#000" font-weight="normal" text-anchor="start" style="font-family:'DejaVu Sans Condensed','DejaVu Sans','Liberation Sans',sans-serif;white-space:pre"  stroke="#000" stroke-width="0.25">80</text>
<text transform="translate(1651,839.5) scale(0.948,1)" font-size="9.6" fill="#000" font-weight="normal" text-anchor="start" style="font-family:'DejaVu Sans Condensed','DejaVu Sans','Liberation Sans',sans-serif;white-space:pre"  stroke="#000" stroke-width="0.25">50</text>
<text transform="translate(1651,900) scale(0.948,1)" font-size="9.6" fill="#000" font-weight="normal" text-anchor="start" style="font-family:'DejaVu Sans Condensed','DejaVu Sans','Liberation Sans',sans-serif;white-space:pre"  stroke="#000" stroke-width="0.25">15</text>
<text transform="translate(1651,919.5) scale(0.948,1)" font-size="9.6" fill="#000" font-weight="normal" text-anchor="start" style="font-family:'DejaVu Sans Condensed','DejaVu Sans','Liberation Sans',sans-serif;white-space:pre"  stroke="#000" stroke-width="0.25">0</text>
<text transform="translate(-6.3,603.5) scale(0.93,1)" font-size="9.6" fill="#000" font-weight="normal" text-anchor="start" style="font-family:'DejaVu Sans Condensed','DejaVu Sans','Liberation Sans',sans-serif;white-space:pre"  stroke="#000" stroke-width="0.25">MACD(12,26,9) -258.29 -239.18</text>
<text transform="translate(-6.6,762) scale(0.948,1)" font-size="9.6" fill="#000" font-weight="normal" text-anchor="start" style="font-family:'DejaVu Sans Condensed','DejaVu Sans','Liberation Sans',sans-serif;white-space:pre"  stroke="#000" stroke-width="0.25">RSI(14) 43.1035</text>
<text transform="translate(51.2,935) scale(0.948,1)" font-size="9.6" fill="#000" font-weight="normal" text-anchor="start" style="font-family:'DejaVu Sans Condensed','DejaVu Sans','Liberation Sans',sans-serif;white-space:pre"  stroke="#000" stroke-width="0.25">16 Mar 04:00</text>
<text transform="translate(115.2,935) scale(0.948,1)" font-size="9.6" fill="#000" font-weight="normal" text-anchor="start" style="font-family:'DejaVu Sans Condensed','DejaVu Sans','Liberation Sans',sans-serif;white-space:pre"  stroke="#000" stroke-width="0.25">17 Mar 12:00</text>
<text transform="translate(179.2,935) scale(0.948,1)" font-size="9.6" fill="#000" font-weight="normal" text-anchor="start" style="font-family:'DejaVu Sans Condensed','DejaVu Sans','Liberation Sans',sans-serif;white-space:pre"  stroke="#000" stroke-width="0.25">18 Mar 20:00</text>
<text transform="translate(243.2,935) scale(0.948,1)" font-size="9.6" fill="#000" font-weight="normal" text-anchor="start" style="font-family:'DejaVu Sans Condensed','DejaVu Sans','Liberation Sans',sans-serif;white-space:pre"  stroke="#000" stroke-width="0.25">22 Mar 00:00</text>
<text transform="translate(307.2,935) scale(0.948,1)" font-size="9.6" fill="#000" font-weight="normal" text-anchor="start" style="font-family:'DejaVu Sans Condensed','DejaVu Sans','Liberation Sans',sans-serif;white-space:pre"  stroke="#000" stroke-width="0.25">23 Mar 08:00</text>
<text transform="translate(371.2,935) scale(0.948,1)" font-size="9.6" fill="#000" font-weight="normal" text-anchor="start" style="font-family:'DejaVu Sans Condensed','DejaVu Sans','Liberation Sans',sans-serif;white-space:pre"  stroke="#000" stroke-width="0.25">24 Mar 16:00</text>
<text transform="translate(435.2,935) scale(0.948,1)" font-size="9.6" fill="#000" font-weight="normal" text-anchor="start" style="font-family:'DejaVu Sans Condensed','DejaVu Sans','Liberation Sans',sans-serif;white-space:pre"  stroke="#000" stroke-width="0.25">28 Mar 00:00</text>
<text transform="translate(499.2,935) scale(0.948,1)" font-size="9.6" fill="#000" font-weight="normal" text-anchor="start" style="font-family:'DejaVu Sans Condensed','DejaVu Sans','Liberation Sans',sans-serif;white-space:pre"  stroke="#000" stroke-width="0.25">29 Mar 08:00</text>
<text transform="translate(563.2,935) scale(0.948,1)" font-size="9.6" fill="#000" font-weight="normal" text-anchor="start" style="font-family:'DejaVu Sans Condensed','DejaVu Sans','Liberation Sans',sans-serif;white-space:pre"  stroke="#000" stroke-width="0.25">30 Mar 16:00</text>
<text transform="translate(627.2,935) scale(0.948,1)" font-size="9.6" fill="#000" font-weight="normal" text-anchor="start" style="font-family:'DejaVu Sans Condensed','DejaVu Sans','Liberation Sans',sans-serif;white-space:pre"  stroke="#000" stroke-width="0.25">1 Apr 00:00</text>
<text transform="translate(691.2,935) scale(0.948,1)" font-size="9.6" fill="#000" font-weight="normal" text-anchor="start" style="font-family:'DejaVu Sans Condensed','DejaVu Sans','Liberation Sans',sans-serif;white-space:pre"  stroke="#000" stroke-width="0.25">4 Apr 08:00</text>
<text transform="translate(755.2,935) scale(0.948,1)" font-size="9.6" fill="#000" font-weight="normal" text-anchor="start" style="font-family:'DejaVu Sans Condensed','DejaVu Sans','Liberation Sans',sans-serif;white-space:pre"  stroke="#000" stroke-width="0.25">5 Apr 16:00</text>
<text transform="translate(819.2,935) scale(0.948,1)" font-size="9.6" fill="#000" font-weight="normal" text-anchor="start" style="font-family:'DejaVu Sans Condensed','DejaVu Sans','Liberation Sans',sans-serif;white-space:pre"  stroke="#000" stroke-width="0.25">7 Apr 00:00</text>
<text transform="translate(883.2,935) scale(0.948,1)" font-size="9.6" fill="#000" font-weight="normal" text-anchor="start" style="font-family:'DejaVu Sans Condensed','DejaVu Sans','Liberation Sans',sans-serif;white-space:pre"  stroke="#000" stroke-width="0.25">8 Apr 08:00</text>
<text transform="translate(947.2,935) scale(0.948,1)" font-size="9.6" fill="#000" font-weight="normal" text-anchor="start" style="font-family:'DejaVu Sans Condensed','DejaVu Sans','Liberation Sans',sans-serif;white-space:pre"  stroke="#000" stroke-width="0.25">11 Apr 16:00</text>
<text transform="translate(1011.2,935) scale(0.948,1)" font-size="9.6" fill="#000" font-weight="normal" text-anchor="start" style="font-family:'DejaVu Sans Condensed','DejaVu Sans','Liberation Sans',sans-serif;white-space:pre"  stroke="#000" stroke-width="0.25">13 Apr 00:00</text>
<text transform="translate(1075.2,935) scale(0.948,1)" font-size="9.6" fill="#000" font-weight="normal" text-anchor="start" style="font-family:'DejaVu Sans Condensed','DejaVu Sans','Liberation Sans',sans-serif;white-space:pre"  stroke="#000" stroke-width="0.25">14 Apr 08:00</text>
<text transform="translate(1139.2,935) scale(0.948,1)" font-size="9.6" fill="#000" font-weight="normal" text-anchor="start" style="font-family:'DejaVu Sans Condensed','DejaVu Sans','Liberation Sans',sans-serif;white-space:pre"  stroke="#000" stroke-width="0.25">18 Apr 12:00</text>
<text transform="translate(1203.2,935) scale(0.948,1)" font-size="9.6" fill="#000" font-weight="normal" text-anchor="start" style="font-family:'DejaVu Sans Condensed','DejaVu Sans','Liberation Sans',sans-serif;white-space:pre"  stroke="#000" stroke-width="0.25">19 Apr 20:00</text>
<text transform="translate(1267.2,935) scale(0.948,1)" font-size="9.6" fill="#000" font-weight="normal" text-anchor="start" style="font-family:'DejaVu Sans Condensed','DejaVu Sans','Liberation Sans',sans-serif;white-space:pre"  stroke="#000" stroke-width="0.25">21 Apr 04:00</text>
<text transform="translate(1331.2,935) scale(0.948,1)" font-size="9.6" fill="#000" font-weight="normal" text-anchor="start" style="font-family:'DejaVu Sans Condensed','DejaVu Sans','Liberation Sans',sans-serif;white-space:pre"  stroke="#000" stroke-width="0.25">22 Apr 12:00</text>
<text transform="translate(1395.2,935) scale(0.948,1)" font-size="9.6" fill="#000" font-weight="normal" text-anchor="start" style="font-family:'DejaVu Sans Condensed','DejaVu Sans','Liberation Sans',sans-serif;white-space:pre"  stroke="#000" stroke-width="0.25">25 Apr 20:00</text>
<text transform="translate(-12.2,935) scale(0.948,1)" font-size="9.6" fill="#000" font-weight="normal" text-anchor="start" style="font-family:'DejaVu Sans Condensed','DejaVu Sans','Liberation Sans',sans-serif;white-space:pre"  stroke="#000" stroke-width="0.25">15 Mar 2022</text>
</g>
<rect x="1648" y="24" width="3" height="1" fill="#000"/>
<rect x="1648" y="57" width="3" height="1" fill="#000"/>
<rect x="1648" y="90" width="3" height="1" fill="#000"/>
<rect x="1648" y="123" width="3" height="1" fill="#000"/>
<rect x="1648" y="156" width="3" height="1" fill="#000"/>
<rect x="1648" y="189" width="3" height="1" fill="#000"/>
<rect x="1648" y="222" width="3" height="1" fill="#000"/>
<rect x="1648" y="255" width="3" height="1" fill="#000"/>
<rect x="1648" y="289" width="3" height="1" fill="#000"/>
<rect x="1648" y="321" width="3" height="1" fill="#000"/>
<rect x="1648" y="354" width="3" height="1" fill="#000"/>
<rect x="1648" y="387" width="3" height="1" fill="#000"/>
<rect x="1648" y="420" width="3" height="1" fill="#000"/>
<rect x="1648" y="453" width="3" height="1" fill="#000"/>
<rect x="1648" y="486" width="3" height="1" fill="#000"/>
<rect x="1648" y="519" width="3" height="1" fill="#000"/>
<rect x="1648" y="552" width="3" height="1" fill="#000"/>
<rect x="1648" y="585" width="3" height="1" fill="#000"/>
<rect x="1648" y="592" width="2" height="1" fill="#000"/>
<rect x="1648" y="668" width="2" height="1" fill="#000"/>
<rect x="1648" y="745" width="2" height="1" fill="#000"/>
<rect x="1648" y="750" width="2" height="1" fill="#000"/>
<rect x="1648" y="784" width="2" height="1" fill="#000"/>
<rect x="1648" y="835" width="2" height="1" fill="#000"/>
<rect x="1648" y="896" width="2" height="1" fill="#000"/>
<rect x="52" y="923" width="1" height="3" fill="#000"/>
<rect x="116" y="923" width="1" height="3" fill="#000"/>
<rect x="180" y="923" width="1" height="3" fill="#000"/>
<rect x="244" y="923" width="1" height="3" fill="#000"/>
<rect x="308" y="923" width="1" height="3" fill="#000"/>
<rect x="372" y="923" width="1" height="3" fill="#000"/>
<rect x="436" y="923" width="1" height="3" fill="#000"/>
<rect x="500" y="923" width="1" height="3" fill="#000"/>
<rect x="564" y="923" width="1" height="3" fill="#000"/>
<rect x="628" y="923" width="1" height="3" fill="#000"/>
<rect x="692" y="923" width="1" height="3" fill="#000"/>
<rect x="756" y="923" width="1" height="3" fill="#000"/>
<rect x="820" y="923" width="1" height="3" fill="#000"/>
<rect x="884" y="923" width="1" height="3" fill="#000"/>
<rect x="948" y="923" width="1" height="3" fill="#000"/>
<rect x="1012" y="923" width="1" height="3" fill="#000"/>
<rect x="1076" y="923" width="1" height="3" fill="#000"/>
<rect x="1140" y="923" width="1" height="3" fill="#000"/>
<rect x="1204" y="923" width="1" height="3" fill="#000"/>
<rect x="1268" y="923" width="1" height="3" fill="#000"/>
<rect x="1332" y="923" width="1" height="3" fill="#000"/>
<rect x="1396" y="923" width="1" height="3" fill="#000"/>
<rect x="1649" y="244" width="41" height="11" fill="#ff0000"/>
<g shape-rendering="auto"><text transform="translate(1652.5,253) scale(0.948,1)" font-size="9.6" fill="#fff" font-weight="normal" text-anchor="start" style="font-family:'DejaVu Sans Condensed','DejaVu Sans','Liberation Sans',sans-serif;white-space:pre"  stroke="#fff" stroke-width="0.25">34324.0</text></g>
<rect x="1649" y="281" width="41" height="11" fill="#ff0000"/>
<g shape-rendering="auto"><text transform="translate(1652.5,290) scale(0.948,1)" font-size="9.6" fill="#fff" font-weight="normal" text-anchor="start" style="font-family:'DejaVu Sans Condensed','DejaVu Sans','Liberation Sans',sans-serif;white-space:pre"  stroke="#fff" stroke-width="0.25">34124.9</text></g>
<rect x="1649" y="316" width="41" height="11" fill="#000000"/>
<g shape-rendering="auto"><text transform="translate(1652.5,325) scale(0.948,1)" font-size="9.6" fill="#fff" font-weight="normal" text-anchor="start" style="font-family:'DejaVu Sans Condensed','DejaVu Sans','Liberation Sans',sans-serif;white-space:pre"  stroke="#fff" stroke-width="0.25">33942.5</text></g>
<rect x="1649" y="331" width="41" height="11" fill="#32cd32"/>
<g shape-rendering="auto"><text transform="translate(1652.5,340) scale(0.948,1)" font-size="9.6" fill="#fff" font-weight="normal" text-anchor="start" style="font-family:'DejaVu Sans Condensed','DejaVu Sans','Liberation Sans',sans-serif;white-space:pre"  stroke="#fff" stroke-width="0.25">33855.8</text></g>
<rect x="1649" y="361" width="41" height="11" fill="#0000ff"/>
<g shape-rendering="auto"><text transform="translate(1652.5,370) scale(0.948,1)" font-size="9.6" fill="#fff" font-weight="normal" text-anchor="start" style="font-family:'DejaVu Sans Condensed','DejaVu Sans','Liberation Sans',sans-serif;white-space:pre"  stroke="#fff" stroke-width="0.25">33694.3</text></g>
<rect x="1649" y="395" width="41" height="11" fill="#0000ff"/>
<g shape-rendering="auto"><text transform="translate(1652.5,404) scale(0.948,1)" font-size="9.6" fill="#fff" font-weight="normal" text-anchor="start" style="font-family:'DejaVu Sans Condensed','DejaVu Sans','Liberation Sans',sans-serif;white-space:pre"  stroke="#fff" stroke-width="0.25">33511.4</text></g>
<defs><linearGradient id="gt" x1="0" y1="0" x2="0" y2="1"><stop offset="0" stop-color="#5a5aff"/><stop offset="1" stop-color="#3128e0"/></linearGradient><linearGradient id="gb" x1="0" y1="0" x2="0" y2="1"><stop offset="0" stop-color="#3b32e4"/><stop offset="1" stop-color="#0000b0"/></linearGradient><linearGradient id="gbtn" x1="0" y1="0" x2="0" y2="1"><stop offset="0" stop-color="#f4f4f4"/><stop offset="0.5" stop-color="#e6e6e6"/><stop offset="0.55" stop-color="#dadada"/><stop offset="1" stop-color="#d0d0d0"/></linearGradient></defs>
<rect x="-1.5" y="65.5" width="101" height="32" fill="url(#gb)" stroke="#00009c"/>
<rect x="102.5" y="65.5" width="107" height="32" fill="url(#gb)" stroke="#00009c"/>
<rect x="0" y="41" width="43" height="25" fill="url(#gt)"/>
<rect x="158" y="41" width="52" height="25" fill="url(#gt)"/>
<rect x="0" y="41" width="43" height="1" fill="#00009c"/><rect x="42" y="41" width="1" height="25" fill="#00009c"/>
<rect x="158" y="41" width="52" height="1" fill="#00009c"/><rect x="158" y="41" width="1" height="25" fill="#00009c"/><rect x="209" y="41" width="1" height="25" fill="#00009c"/>
<rect x="1" y="64" width="38" height="1" fill="#000080"/><rect x="1" y="65" width="38" height="1" fill="#6a6aff"/>
<rect x="162" y="64" width="44" height="1" fill="#000080"/><rect x="162" y="65" width="44" height="1" fill="#6a6aff"/>
<rect x="45.5" y="41.5" width="110" height="21" fill="#fff" stroke="#a8a8a8"/>
<rect x="46.5" y="42.5" width="19" height="19" fill="url(#gbtn)" stroke="#c8c8c8"/>
<rect x="134.5" y="42.5" width="20" height="19" fill="url(#gbtn)" stroke="#c8c8c8"/>
<polygon points="53,50 58,50 55.5,53" fill="#5a6fb8"/>
<polygon points="142,53 147,53 144.5,50" fill="#5a6fb8"/>
<g shape-rendering="auto">
<text transform="translate(3,57) scale(0.96,1)" font-size="12.5" fill="#fff" font-weight="normal" text-anchor="start" style="font-family:'DejaVu Sans Condensed','DejaVu Sans','Liberation Sans',sans-serif;white-space:pre"  stroke="#fff" stroke-width="0">SELL</text>
<text transform="translate(171.3,57) scale(1.0,1)" font-size="12.5" fill="#fff" font-weight="normal" text-anchor="start" style="font-family:'DejaVu Sans Condensed','DejaVu Sans','Liberation Sans',sans-serif;white-space:pre"  stroke="#fff" stroke-width="0">BUY</text>
<text transform="translate(107.3,56) scale(0.98,1)" font-size="12" fill="#000" font-weight="normal" text-anchor="start" style="font-family:'DejaVu Sans Condensed','DejaVu Sans','Liberation Sans',sans-serif;white-space:pre"  stroke="#000" stroke-width="0">1.00</text>
<text transform="translate(7.3,93) scale(0.925,1)" font-size="12" fill="#fff" font-weight="bold" text-anchor="start" style="font-family:'DejaVu Sans Condensed','DejaVu Sans','Liberation Sans',sans-serif;white-space:pre"  stroke="#fff" stroke-width="0">33941</text>
<text transform="translate(117.3,93) scale(0.925,1)" font-size="12" fill="#fff" font-weight="bold" text-anchor="start" style="font-family:'DejaVu Sans Condensed','DejaVu Sans','Liberation Sans',sans-serif;white-space:pre"  stroke="#fff" stroke-width="0">33951</text>
<circle cx="48.7" cy="90.6" r="2.3" fill="#fff"/>
<circle cx="159.6" cy="90.6" r="2.3" fill="#fff"/>
<text transform="translate(50.8,92.6) scale(1.05,1)" font-size="31.3" fill="#fff" font-weight="200" text-anchor="start" style="font-family:'DejaVu Sans';white-space:pre" stroke="#fff" stroke-width="0.7" stroke="#fff" stroke-width="0">0</text>
<text transform="translate(162.2,92.6) scale(1.05,1)" font-size="31.3" fill="#fff" font-weight="200" text-anchor="start" style="font-family:'DejaVu Sans';white-space:pre" stroke="#fff" stroke-width="0.7" stroke="#fff" stroke-width="0">0</text>
</g>
</svg>
</body></html>
